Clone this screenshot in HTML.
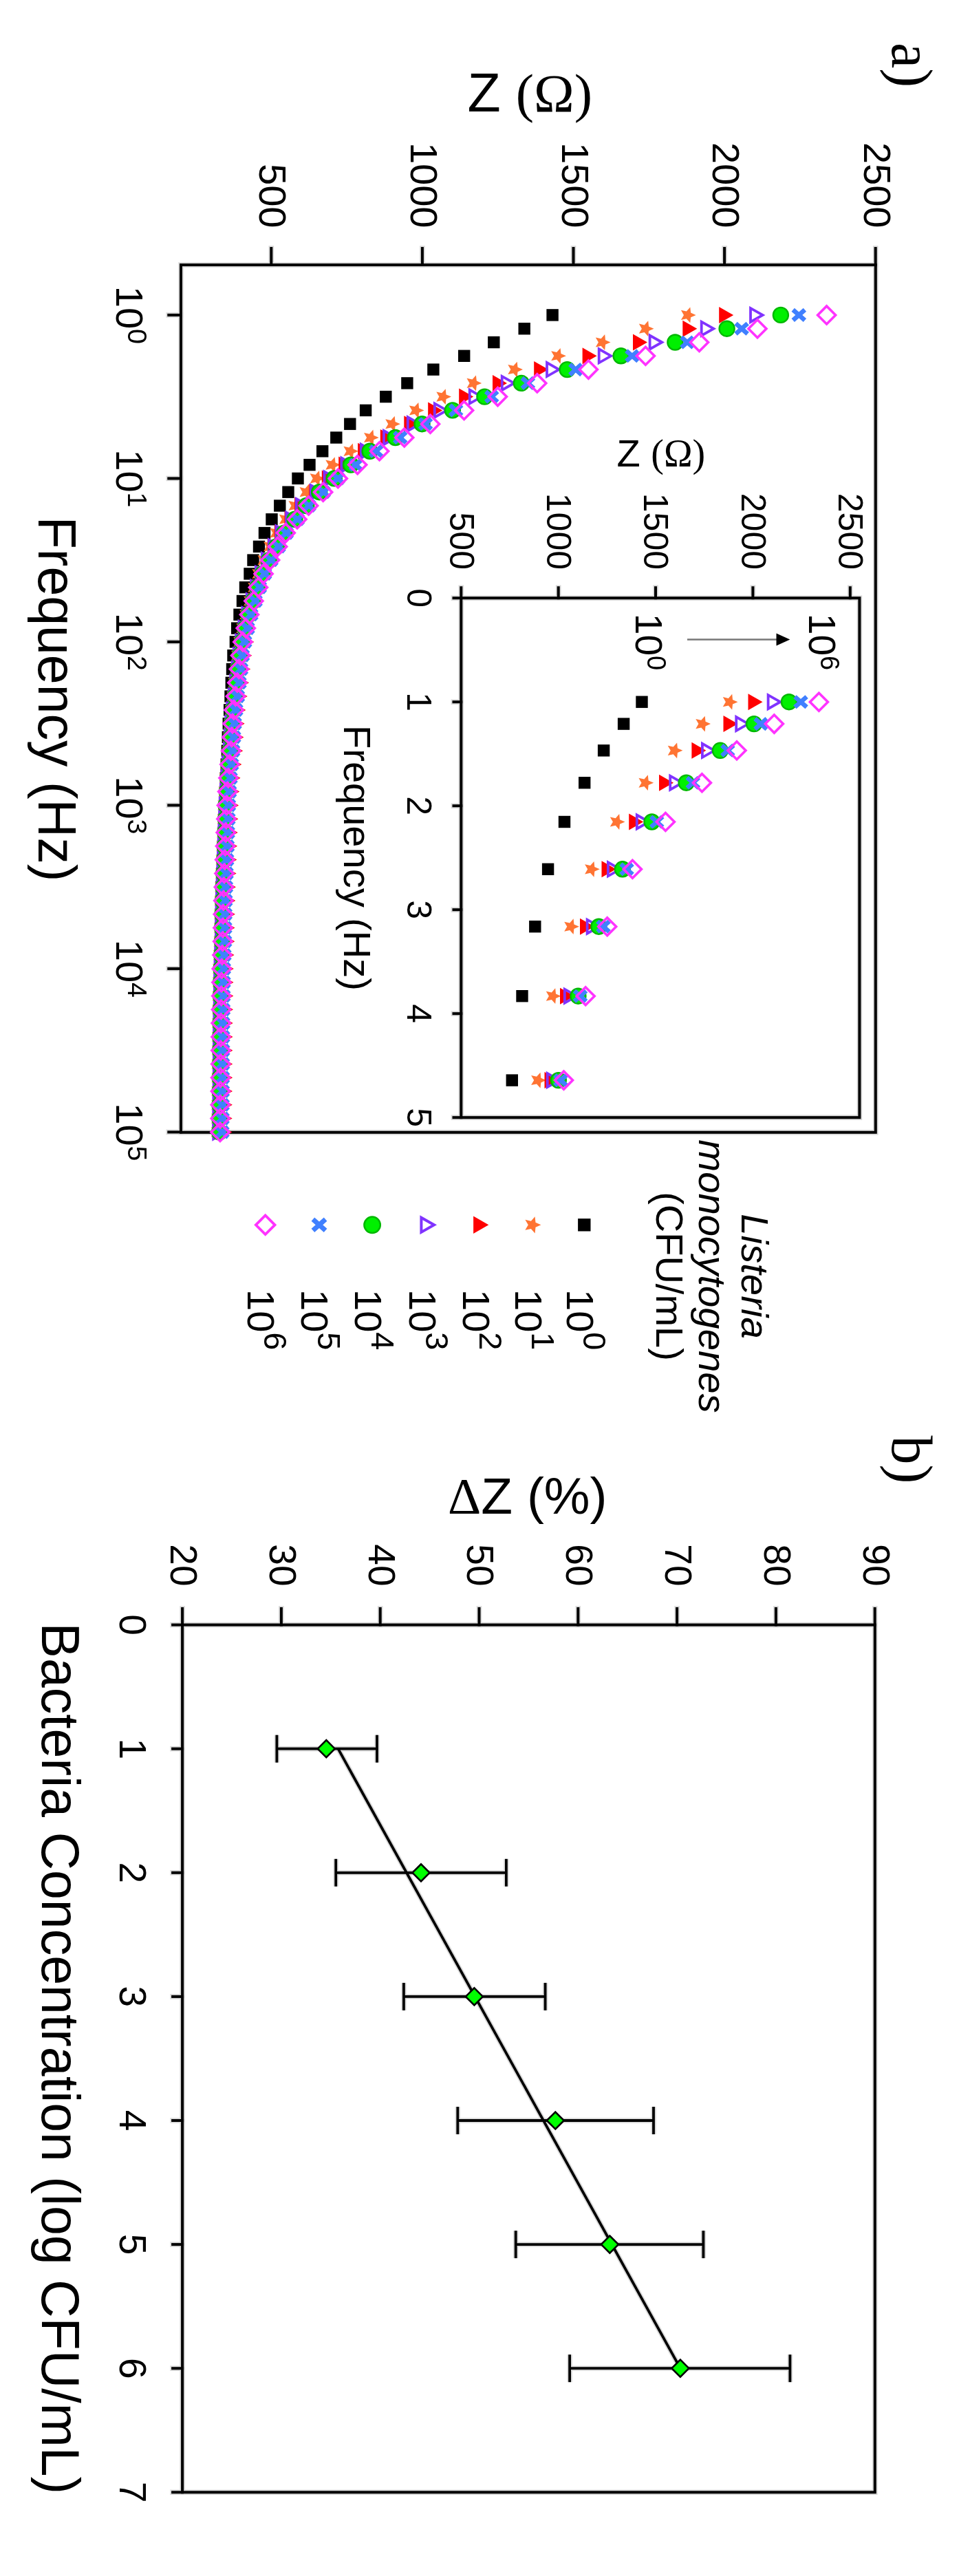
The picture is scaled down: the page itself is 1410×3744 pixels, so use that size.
<!DOCTYPE html><html><head><meta charset="utf-8"><title>Listeria impedance</title>
<style>html,body{margin:0;padding:0;background:#fff;}svg{display:block;filter:blur(0.5px);}text{stroke:none;}</style></head><body>
<svg width="1410" height="3744" viewBox="0 0 1410 3744">
<rect width="1410" height="3744" fill="#fff"/>
<g transform="translate(1410,0) rotate(90)">
<g stroke="#d9d9d9" stroke-width="7.6" fill="none" stroke-linecap="square">
<rect x="385" y="137.2" width="1260.8" height="1009.8"/>
<line x1="361" y1="1015.7" x2="385" y2="1015.7"/>
<line x1="361" y1="796.1" x2="385" y2="796.1"/>
<line x1="361" y1="576.5" x2="385" y2="576.5"/>
<line x1="361" y1="356.9" x2="385" y2="356.9"/>
<line x1="361" y1="137.3" x2="385" y2="137.3"/>
<line x1="457.9" y1="1147" x2="457.9" y2="1164.7"/>
<line x1="695.4" y1="1147" x2="695.4" y2="1164.7"/>
<line x1="932.9" y1="1147" x2="932.9" y2="1164.7"/>
<line x1="1170.4" y1="1147" x2="1170.4" y2="1164.7"/>
<line x1="1407.9" y1="1147" x2="1407.9" y2="1164.7"/>
<line x1="1645.4" y1="1147" x2="1645.4" y2="1164.7"/>
</g>
<g stroke="#000" stroke-width="4" fill="none" stroke-linecap="square">
<rect x="385" y="137.2" width="1260.8" height="1009.8"/>
<line x1="361" y1="1015.7" x2="385" y2="1015.7"/>
<line x1="361" y1="796.1" x2="385" y2="796.1"/>
<line x1="361" y1="576.5" x2="385" y2="576.5"/>
<line x1="361" y1="356.9" x2="385" y2="356.9"/>
<line x1="361" y1="137.3" x2="385" y2="137.3"/>
<line x1="457.9" y1="1147" x2="457.9" y2="1164.7"/>
<line x1="695.4" y1="1147" x2="695.4" y2="1164.7"/>
<line x1="932.9" y1="1147" x2="932.9" y2="1164.7"/>
<line x1="1170.4" y1="1147" x2="1170.4" y2="1164.7"/>
<line x1="1407.9" y1="1147" x2="1407.9" y2="1164.7"/>
<line x1="1645.4" y1="1147" x2="1645.4" y2="1164.7"/>
</g>
<text x="331.5" y="1032.7" font-size="56" text-anchor="end" font-family='"Liberation Sans", Arial, sans-serif'>500</text>
<text x="331.5" y="813.1" font-size="56" text-anchor="end" font-family='"Liberation Sans", Arial, sans-serif'>1000</text>
<text x="331.5" y="593.5" font-size="56" text-anchor="end" font-family='"Liberation Sans", Arial, sans-serif'>1500</text>
<text x="331.5" y="373.9" font-size="56" text-anchor="end" font-family='"Liberation Sans", Arial, sans-serif'>2000</text>
<text x="331.5" y="154.3" font-size="56" text-anchor="end" font-family='"Liberation Sans", Arial, sans-serif'>2500</text>
<text x="457.9" y="1241.4" font-size="56" text-anchor="middle" font-family='"Liberation Sans", Arial, sans-serif'>10<tspan font-size="39.5" dy="-17">0</tspan></text>
<text x="695.4" y="1241.4" font-size="56" text-anchor="middle" font-family='"Liberation Sans", Arial, sans-serif'>10<tspan font-size="39.5" dy="-17">1</tspan></text>
<text x="932.9" y="1241.4" font-size="56" text-anchor="middle" font-family='"Liberation Sans", Arial, sans-serif'>10<tspan font-size="39.5" dy="-17">2</tspan></text>
<text x="1170.4" y="1241.4" font-size="56" text-anchor="middle" font-family='"Liberation Sans", Arial, sans-serif'>10<tspan font-size="39.5" dy="-17">3</tspan></text>
<text x="1407.9" y="1241.4" font-size="56" text-anchor="middle" font-family='"Liberation Sans", Arial, sans-serif'>10<tspan font-size="39.5" dy="-17">4</tspan></text>
<text x="1645.4" y="1241.4" font-size="56" text-anchor="middle" font-family='"Liberation Sans", Arial, sans-serif'>10<tspan font-size="39.5" dy="-17">5</tspan></text>
<text x="1016" y="1354.3" font-size="77" text-anchor="middle" font-family='"Liberation Sans", Arial, sans-serif'>Frequency (Hz)</text>
<text x="62" y="113" font-size="84" text-anchor="start" font-family='"Liberation Serif", "Times New Roman", serif'>a)</text>
<g>
<rect x="449.2" y="598.2" width="17.4" height="17.4" fill="#000"/>
<rect x="469" y="639.1" width="17.4" height="17.4" fill="#000"/>
<rect x="488.8" y="683.5" width="17.4" height="17.4" fill="#000"/>
<rect x="508.6" y="726.6" width="17.4" height="17.4" fill="#000"/>
<rect x="528.4" y="771.4" width="17.4" height="17.4" fill="#000"/>
<rect x="548.2" y="809.4" width="17.4" height="17.4" fill="#000"/>
<rect x="567.9" y="840.5" width="17.4" height="17.4" fill="#000"/>
<rect x="587.7" y="869.7" width="17.4" height="17.4" fill="#000"/>
<rect x="607.5" y="892.5" width="17.4" height="17.4" fill="#000"/>
<rect x="627.3" y="912.5" width="17.4" height="17.4" fill="#000"/>
<rect x="647.1" y="932.6" width="17.4" height="17.4" fill="#000"/>
<rect x="666.9" y="951.3" width="17.4" height="17.4" fill="#000"/>
<rect x="686.7" y="968.3" width="17.4" height="17.4" fill="#000"/>
<rect x="706.5" y="982.3" width="17.4" height="17.4" fill="#000"/>
<rect x="726.3" y="994.5" width="17.4" height="17.4" fill="#000"/>
<rect x="746.1" y="1006.3" width="17.4" height="17.4" fill="#000"/>
<rect x="765.9" y="1016.8" width="17.4" height="17.4" fill="#000"/>
<rect x="785.7" y="1024.8" width="17.4" height="17.4" fill="#000"/>
<rect x="805.4" y="1033.3" width="17.4" height="17.4" fill="#000"/>
<rect x="825.2" y="1038.3" width="17.4" height="17.4" fill="#000"/>
<rect x="845" y="1044.8" width="17.4" height="17.4" fill="#000"/>
<rect x="864.8" y="1048.8" width="17.4" height="17.4" fill="#000"/>
<rect x="884.6" y="1053.3" width="17.4" height="17.4" fill="#000"/>
<rect x="904.4" y="1056.6" width="17.4" height="17.4" fill="#000"/>
<rect x="924.2" y="1058.9" width="17.4" height="17.4" fill="#000"/>
<rect x="944" y="1062.3" width="17.4" height="17.4" fill="#000"/>
<rect x="963.8" y="1063.8" width="17.4" height="17.4" fill="#000"/>
<rect x="983.6" y="1065" width="17.4" height="17.4" fill="#000"/>
<rect x="1003.4" y="1066.3" width="17.4" height="17.4" fill="#000"/>
<rect x="1023.2" y="1067.6" width="17.4" height="17.4" fill="#000"/>
<rect x="1043" y="1069" width="17.4" height="17.4" fill="#000"/>
<rect x="1062.7" y="1070" width="17.4" height="17.4" fill="#000"/>
<rect x="1082.5" y="1070.9" width="17.4" height="17.4" fill="#000"/>
<rect x="1102.3" y="1072" width="17.4" height="17.4" fill="#000"/>
<rect x="1122.1" y="1073" width="17.4" height="17.4" fill="#000"/>
<rect x="1141.9" y="1073.8" width="17.4" height="17.4" fill="#000"/>
<rect x="1161.7" y="1074.5" width="17.4" height="17.4" fill="#000"/>
<rect x="1181.5" y="1075.3" width="17.4" height="17.4" fill="#000"/>
<rect x="1201.3" y="1076.1" width="17.4" height="17.4" fill="#000"/>
<rect x="1221.1" y="1076.9" width="17.4" height="17.4" fill="#000"/>
<rect x="1240.9" y="1077.7" width="17.4" height="17.4" fill="#000"/>
<rect x="1260.7" y="1078.5" width="17.4" height="17.4" fill="#000"/>
<rect x="1280.5" y="1079.3" width="17.4" height="17.4" fill="#000"/>
<rect x="1300.2" y="1079.7" width="17.4" height="17.4" fill="#000"/>
<rect x="1320" y="1080" width="17.4" height="17.4" fill="#000"/>
<rect x="1339.8" y="1080.4" width="17.4" height="17.4" fill="#000"/>
<rect x="1359.6" y="1080.8" width="17.4" height="17.4" fill="#000"/>
<rect x="1379.4" y="1081.2" width="17.4" height="17.4" fill="#000"/>
<rect x="1399.2" y="1081.5" width="17.4" height="17.4" fill="#000"/>
<rect x="1419" y="1081.9" width="17.4" height="17.4" fill="#000"/>
<rect x="1438.8" y="1082.3" width="17.4" height="17.4" fill="#000"/>
<rect x="1458.6" y="1082.4" width="17.4" height="17.4" fill="#000"/>
<rect x="1478.4" y="1082.5" width="17.4" height="17.4" fill="#000"/>
<rect x="1498.2" y="1082.6" width="17.4" height="17.4" fill="#000"/>
<rect x="1518" y="1082.7" width="17.4" height="17.4" fill="#000"/>
<rect x="1537.7" y="1082.8" width="17.4" height="17.4" fill="#000"/>
<rect x="1557.5" y="1082.9" width="17.4" height="17.4" fill="#000"/>
<rect x="1577.3" y="1083" width="17.4" height="17.4" fill="#000"/>
<rect x="1597.1" y="1083.1" width="17.4" height="17.4" fill="#000"/>
<rect x="1616.9" y="1083.2" width="17.4" height="17.4" fill="#000"/>
<rect x="1636.7" y="1083.3" width="17.4" height="17.4" fill="#000"/>
</g>
<g>
<polygon points="457.9,398.4 461.2,405.9 469.3,406.7 463.2,412.2 465,420.1 457.9,416 450.8,420.1 452.6,412.2 446.5,406.7 454.6,405.9" fill="#ff7433"/>
<polygon points="477.7,459.5 481,467 489.1,467.8 483,473.3 484.7,481.2 477.7,477.1 470.6,481.2 472.4,473.3 466.3,467.8 474.4,467" fill="#ff7433"/>
<polygon points="497.5,522.5 500.8,530 508.9,530.8 502.8,536.3 504.5,544.2 497.5,540.1 490.4,544.2 492.2,536.3 486.1,530.8 494.2,530" fill="#ff7433"/>
<polygon points="517.3,587.1 520.6,594.6 528.7,595.4 522.6,600.8 524.3,608.8 517.3,604.7 510.2,608.8 511.9,600.8 505.9,595.4 514,594.6" fill="#ff7433"/>
<polygon points="537.1,650 540.4,657.5 548.5,658.3 542.4,663.7 544.1,671.7 537.1,667.6 530,671.7 531.7,663.7 525.7,658.3 533.8,657.5" fill="#ff7433"/>
<polygon points="556.9,709.8 560.1,717.2 568.3,718.1 562.2,723.5 563.9,731.5 556.9,727.4 549.8,731.5 551.5,723.5 545.4,718.1 553.6,717.2" fill="#ff7433"/>
<polygon points="576.6,754 579.9,761.5 588.1,762.3 582,767.8 583.7,775.7 576.6,771.6 569.6,775.7 571.3,767.8 565.2,762.3 573.4,761.5" fill="#ff7433"/>
<polygon points="596.4,793.5 599.7,800.9 607.9,801.7 601.8,807.2 603.5,815.2 596.4,811.1 589.4,815.2 591.1,807.2 585,801.7 593.2,800.9" fill="#ff7433"/>
<polygon points="616.2,828.1 619.5,835.5 627.6,836.3 621.6,841.8 623.3,849.8 616.2,845.7 609.2,849.8 610.9,841.8 604.8,836.3 612.9,835.5" fill="#ff7433"/>
<polygon points="636,859.3 639.3,866.8 647.4,867.6 641.4,873 643.1,881 636,876.9 629,881 630.7,873 624.6,867.6 632.7,866.8" fill="#ff7433"/>
<polygon points="655.8,888.9 659.1,896.4 667.2,897.2 661.1,902.6 662.9,910.6 655.8,906.5 648.8,910.6 650.5,902.6 644.4,897.2 652.5,896.4" fill="#ff7433"/>
<polygon points="675.6,915 678.9,922.5 687,923.3 680.9,928.8 682.7,936.8 675.6,932.6 668.6,936.8 670.3,928.8 664.2,923.3 672.3,922.5" fill="#ff7433"/>
<polygon points="695.4,937.7 698.7,945.2 706.8,946 700.7,951.4 702.5,959.4 695.4,955.3 688.3,959.4 690.1,951.4 684,946 692.1,945.2" fill="#ff7433"/>
<polygon points="715.2,952.8 718.5,960.3 726.6,961.1 720.5,966.5 722.2,974.5 715.2,970.4 708.1,974.5 709.9,966.5 703.8,961.1 711.9,960.3" fill="#ff7433"/>
<polygon points="735,968.9 738.3,976.4 746.4,977.2 740.3,982.6 742,990.6 735,986.5 727.9,990.6 729.7,982.6 723.6,977.2 731.7,976.4" fill="#ff7433"/>
<polygon points="754.8,982.5 758.1,990 766.2,990.8 760.1,996.2 761.8,1004.2 754.8,1000.1 747.7,1004.2 749.4,996.2 743.4,990.8 751.5,990" fill="#ff7433"/>
<polygon points="774.6,995.9 777.9,1003.4 786,1004.2 779.9,1009.6 781.6,1017.6 774.6,1013.5 767.5,1017.6 769.2,1009.6 763.2,1004.2 771.3,1003.4" fill="#ff7433"/>
<polygon points="794.4,1005.2 797.6,1012.6 805.8,1013.4 799.7,1018.9 801.4,1026.9 794.4,1022.8 787.3,1026.9 789,1018.9 782.9,1013.4 791.1,1012.6" fill="#ff7433"/>
<polygon points="814.1,1013.9 817.4,1021.4 825.6,1022.2 819.5,1027.6 821.2,1035.6 814.1,1031.5 807.1,1035.6 808.8,1027.6 802.7,1022.2 810.9,1021.4" fill="#ff7433"/>
<polygon points="833.9,1021.9 837.2,1029.4 845.4,1030.2 839.3,1035.6 841,1043.6 833.9,1039.5 826.9,1043.6 828.6,1035.6 822.5,1030.2 830.7,1029.4" fill="#ff7433"/>
<polygon points="853.7,1028.1 857,1035.6 865.1,1036.4 859.1,1041.8 860.8,1049.8 853.7,1045.7 846.7,1049.8 848.4,1041.8 842.3,1036.4 850.4,1035.6" fill="#ff7433"/>
<polygon points="873.5,1034.2 876.8,1041.7 884.9,1042.5 878.9,1048 880.6,1055.9 873.5,1051.8 866.5,1055.9 868.2,1048 862.1,1042.5 870.2,1041.7" fill="#ff7433"/>
<polygon points="893.3,1040.2 896.6,1047.7 904.7,1048.5 898.6,1054 900.4,1062 893.3,1057.8 886.3,1062 888,1054 881.9,1048.5 890,1047.7" fill="#ff7433"/>
<polygon points="913.1,1045.1 916.4,1052.5 924.5,1053.4 918.4,1058.8 920.2,1066.8 913.1,1062.7 906.1,1066.8 907.8,1058.8 901.7,1053.4 909.8,1052.5" fill="#ff7433"/>
<polygon points="932.9,1049.1 936.2,1056.6 944.3,1057.4 938.2,1062.8 940,1070.8 932.9,1066.7 925.8,1070.8 927.6,1062.8 921.5,1057.4 929.6,1056.6" fill="#ff7433"/>
<polygon points="952.7,1052.3 956,1059.8 964.1,1060.6 958,1066 959.7,1074 952.7,1069.9 945.6,1074 947.4,1066 941.3,1060.6 949.4,1059.8" fill="#ff7433"/>
<polygon points="972.5,1054.4 975.8,1061.9 983.9,1062.7 977.8,1068.2 979.5,1076.1 972.5,1072 965.4,1076.1 967.2,1068.2 961.1,1062.7 969.2,1061.9" fill="#ff7433"/>
<polygon points="992.3,1056.8 995.6,1064.2 1003.7,1065 997.6,1070.5 999.3,1078.5 992.3,1074.3 985.2,1078.5 986.9,1070.5 980.9,1065 989,1064.2" fill="#ff7433"/>
<polygon points="1012.1,1059.2 1015.4,1066.6 1023.5,1067.5 1017.4,1072.9 1019.1,1080.9 1012.1,1076.8 1005,1080.9 1006.7,1072.9 1000.7,1067.5 1008.8,1066.6" fill="#ff7433"/>
<polygon points="1031.9,1061.6 1035.1,1069.1 1043.3,1069.9 1037.2,1075.3 1038.9,1083.3 1031.9,1079.2 1024.8,1083.3 1026.5,1075.3 1020.4,1069.9 1028.6,1069.1" fill="#ff7433"/>
<polygon points="1051.7,1063.4 1054.9,1070.9 1063.1,1071.7 1057,1077.1 1058.7,1085.1 1051.7,1081 1044.6,1085.1 1046.3,1077.1 1040.2,1071.7 1048.4,1070.9" fill="#ff7433"/>
<polygon points="1071.4,1064.6 1074.7,1072.1 1082.9,1072.9 1076.8,1078.3 1078.5,1086.3 1071.4,1082.2 1064.4,1086.3 1066.1,1078.3 1060,1072.9 1068.2,1072.1" fill="#ff7433"/>
<polygon points="1091.2,1065.8 1094.5,1073.3 1102.6,1074.1 1096.6,1079.5 1098.3,1087.5 1091.2,1083.4 1084.2,1087.5 1085.9,1079.5 1079.8,1074.1 1087.9,1073.3" fill="#ff7433"/>
<polygon points="1111,1067.7 1114.3,1075.2 1122.4,1076 1116.4,1081.4 1118.1,1089.4 1111,1085.3 1104,1089.4 1105.7,1081.4 1099.6,1076 1107.7,1075.2" fill="#ff7433"/>
<polygon points="1130.8,1069.5 1134.1,1077 1142.2,1077.8 1136.1,1083.2 1137.9,1091.2 1130.8,1087.1 1123.8,1091.2 1125.5,1083.2 1119.4,1077.8 1127.5,1077" fill="#ff7433"/>
<polygon points="1150.6,1070.8 1153.9,1078.3 1162,1079.1 1155.9,1084.5 1157.7,1092.5 1150.6,1088.4 1143.6,1092.5 1145.3,1084.5 1139.2,1079.1 1147.3,1078.3" fill="#ff7433"/>
<polygon points="1170.4,1072 1173.7,1079.5 1181.8,1080.3 1175.7,1085.7 1177.5,1093.7 1170.4,1089.6 1163.3,1093.7 1165.1,1085.7 1159,1080.3 1167.1,1079.5" fill="#ff7433"/>
<polygon points="1190.2,1072.6 1193.5,1080.1 1201.6,1080.9 1195.5,1086.3 1197.2,1094.3 1190.2,1090.2 1183.1,1094.3 1184.9,1086.3 1178.8,1080.9 1186.9,1080.1" fill="#ff7433"/>
<polygon points="1210,1073.3 1213.3,1080.8 1221.4,1081.6 1215.3,1087 1217,1095 1210,1090.9 1202.9,1095 1204.7,1087 1198.6,1081.6 1206.7,1080.8" fill="#ff7433"/>
<polygon points="1229.8,1074 1233.1,1081.5 1241.2,1082.3 1235.1,1087.7 1236.8,1095.7 1229.8,1091.6 1222.7,1095.7 1224.4,1087.7 1218.4,1082.3 1226.5,1081.5" fill="#ff7433"/>
<polygon points="1249.6,1074.7 1252.9,1082.2 1261,1083 1254.9,1088.4 1256.6,1096.4 1249.6,1092.3 1242.5,1096.4 1244.2,1088.4 1238.2,1083 1246.3,1082.2" fill="#ff7433"/>
<polygon points="1269.4,1075.4 1272.6,1082.9 1280.8,1083.7 1274.7,1089.1 1276.4,1097.1 1269.4,1093 1262.3,1097.1 1264,1089.1 1257.9,1083.7 1266.1,1082.9" fill="#ff7433"/>
<polygon points="1289.2,1076.1 1292.4,1083.6 1300.6,1084.4 1294.5,1089.8 1296.2,1097.8 1289.2,1093.7 1282.1,1097.8 1283.8,1089.8 1277.7,1084.4 1285.9,1083.6" fill="#ff7433"/>
<polygon points="1308.9,1076.7 1312.2,1084.1 1320.4,1084.9 1314.3,1090.4 1316,1098.4 1308.9,1094.2 1301.9,1098.4 1303.6,1090.4 1297.5,1084.9 1305.7,1084.1" fill="#ff7433"/>
<polygon points="1328.7,1077.2 1332,1084.7 1340.1,1085.5 1334.1,1090.9 1335.8,1098.9 1328.7,1094.8 1321.7,1098.9 1323.4,1090.9 1317.3,1085.5 1325.4,1084.7" fill="#ff7433"/>
<polygon points="1348.5,1077.5 1351.8,1084.9 1359.9,1085.7 1353.9,1091.2 1355.6,1099.2 1348.5,1095 1341.5,1099.2 1343.2,1091.2 1337.1,1085.7 1345.2,1084.9" fill="#ff7433"/>
<polygon points="1368.3,1077.7 1371.6,1085.2 1379.7,1086 1373.6,1091.4 1375.4,1099.4 1368.3,1095.3 1361.3,1099.4 1363,1091.4 1356.9,1086 1365,1085.2" fill="#ff7433"/>
<polygon points="1388.1,1078.5 1391.4,1085.9 1399.5,1086.7 1393.4,1092.2 1395.2,1100.2 1388.1,1096 1381.1,1100.2 1382.8,1092.2 1376.7,1086.7 1384.8,1085.9" fill="#ff7433"/>
<polygon points="1407.9,1079.2 1411.2,1086.7 1419.3,1087.5 1413.2,1092.9 1415,1100.9 1407.9,1096.8 1400.8,1100.9 1402.6,1092.9 1396.5,1087.5 1404.6,1086.7" fill="#ff7433"/>
<polygon points="1427.7,1079.5 1431,1086.9 1439.1,1087.7 1433,1093.2 1434.7,1101.2 1427.7,1097 1420.6,1101.2 1422.4,1093.2 1416.3,1087.7 1424.4,1086.9" fill="#ff7433"/>
<polygon points="1447.5,1079.7 1450.8,1087.2 1458.9,1088 1452.8,1093.4 1454.5,1101.4 1447.5,1097.3 1440.4,1101.4 1442.2,1093.4 1436.1,1088 1444.2,1087.2" fill="#ff7433"/>
<polygon points="1467.3,1080 1470.6,1087.5 1478.7,1088.3 1472.6,1093.7 1474.3,1101.7 1467.3,1097.6 1460.2,1101.7 1461.9,1093.7 1455.9,1088.3 1464,1087.5" fill="#ff7433"/>
<polygon points="1487.1,1080.3 1490.4,1087.8 1498.5,1088.6 1492.4,1094 1494.1,1102 1487.1,1097.9 1480,1102 1481.7,1094 1475.7,1088.6 1483.8,1087.8" fill="#ff7433"/>
<polygon points="1506.9,1080.5 1510.1,1087.9 1518.3,1088.7 1512.2,1094.2 1513.9,1102.2 1506.9,1098 1499.8,1102.2 1501.5,1094.2 1495.4,1088.7 1503.6,1087.9" fill="#ff7433"/>
<polygon points="1526.7,1080.6 1529.9,1088.1 1538.1,1088.9 1532,1094.3 1533.7,1102.3 1526.7,1098.2 1519.6,1102.3 1521.3,1094.3 1515.2,1088.9 1523.4,1088.1" fill="#ff7433"/>
<polygon points="1546.4,1080.8 1549.7,1088.2 1557.9,1089 1551.8,1094.5 1553.5,1102.5 1546.4,1098.3 1539.4,1102.5 1541.1,1094.5 1535,1089 1543.2,1088.2" fill="#ff7433"/>
<polygon points="1566.2,1080.9 1569.5,1088.4 1577.6,1089.2 1571.6,1094.6 1573.3,1102.6 1566.2,1098.5 1559.2,1102.6 1560.9,1094.6 1554.8,1089.2 1562.9,1088.4" fill="#ff7433"/>
<polygon points="1586,1081 1589.3,1088.5 1597.4,1089.3 1591.4,1094.8 1593.1,1102.8 1586,1098.6 1579,1102.8 1580.7,1094.8 1574.6,1089.3 1582.7,1088.5" fill="#ff7433"/>
<polygon points="1605.8,1081.2 1609.1,1088.7 1617.2,1089.5 1611.1,1094.9 1612.9,1102.9 1605.8,1098.8 1598.8,1102.9 1600.5,1094.9 1594.4,1089.5 1602.5,1088.7" fill="#ff7433"/>
<polygon points="1625.6,1081.3 1628.9,1088.8 1637,1089.6 1630.9,1095.1 1632.7,1103.1 1625.6,1098.9 1618.6,1103.1 1620.3,1095.1 1614.2,1089.6 1622.3,1088.8" fill="#ff7433"/>
<polygon points="1645.4,1081.5 1648.7,1089 1656.8,1089.8 1650.7,1095.2 1652.5,1103.2 1645.4,1099.1 1638.3,1103.2 1640.1,1095.2 1634,1089.8 1642.1,1089" fill="#ff7433"/>
</g>
<g>
<polygon points="457.9,343.8 445.9,364.8 469.9,364.8" fill="#ff0000"/>
<polygon points="477.7,396.7 465.7,417.7 489.7,417.7" fill="#ff0000"/>
<polygon points="497.5,469 485.5,490 509.5,490" fill="#ff0000"/>
<polygon points="517.3,542.4 505.3,563.4 529.3,563.4" fill="#ff0000"/>
<polygon points="537.1,612.8 525.1,633.8 549.1,633.8" fill="#ff0000"/>
<polygon points="556.9,673 544.9,694 568.9,694" fill="#ff0000"/>
<polygon points="576.6,721.8 564.6,742.8 588.6,742.8" fill="#ff0000"/>
<polygon points="596.4,766.8 584.4,787.8 608.4,787.8" fill="#ff0000"/>
<polygon points="616.2,801.7 604.2,822.7 628.2,822.7" fill="#ff0000"/>
<polygon points="636,836.2 624,857.2 648,857.2" fill="#ff0000"/>
<polygon points="655.8,868.9 643.8,889.9 667.8,889.9" fill="#ff0000"/>
<polygon points="675.6,896.8 663.6,917.8 687.6,917.8" fill="#ff0000"/>
<polygon points="695.4,921.2 683.4,942.2 707.4,942.2" fill="#ff0000"/>
<polygon points="715.2,939.8 703.2,960.8 727.2,960.8" fill="#ff0000"/>
<polygon points="735,960.9 723,981.9 747,981.9" fill="#ff0000"/>
<polygon points="754.8,975.5 742.8,996.5 766.8,996.5" fill="#ff0000"/>
<polygon points="774.6,990.2 762.6,1011.2 786.6,1011.2" fill="#ff0000"/>
<polygon points="794.4,1000.3 782.4,1021.3 806.4,1021.3" fill="#ff0000"/>
<polygon points="814.1,1009.9 802.1,1030.9 826.1,1030.9" fill="#ff0000"/>
<polygon points="833.9,1017.4 821.9,1038.4 845.9,1038.4" fill="#ff0000"/>
<polygon points="853.7,1023.1 841.7,1044.1 865.7,1044.1" fill="#ff0000"/>
<polygon points="873.5,1028.3 861.5,1049.3 885.5,1049.3" fill="#ff0000"/>
<polygon points="893.3,1033.5 881.3,1054.5 905.3,1054.5" fill="#ff0000"/>
<polygon points="913.1,1037.5 901.1,1058.5 925.1,1058.5" fill="#ff0000"/>
<polygon points="932.9,1040.6 920.9,1061.6 944.9,1061.6" fill="#ff0000"/>
<polygon points="952.7,1043.7 940.7,1064.7 964.7,1064.7" fill="#ff0000"/>
<polygon points="972.5,1045.8 960.5,1066.8 984.5,1066.8" fill="#ff0000"/>
<polygon points="992.3,1048 980.3,1069 1004.3,1069" fill="#ff0000"/>
<polygon points="1012.1,1050.3 1000.1,1071.3 1024.1,1071.3" fill="#ff0000"/>
<polygon points="1031.9,1052.7 1019.9,1073.7 1043.9,1073.7" fill="#ff0000"/>
<polygon points="1051.7,1054.4 1039.7,1075.4 1063.7,1075.4" fill="#ff0000"/>
<polygon points="1071.4,1055.6 1059.4,1076.6 1083.4,1076.6" fill="#ff0000"/>
<polygon points="1091.2,1056.8 1079.2,1077.8 1103.2,1077.8" fill="#ff0000"/>
<polygon points="1111,1058.7 1099,1079.7 1123,1079.7" fill="#ff0000"/>
<polygon points="1130.8,1060.5 1118.8,1081.5 1142.8,1081.5" fill="#ff0000"/>
<polygon points="1150.6,1061.8 1138.6,1082.8 1162.6,1082.8" fill="#ff0000"/>
<polygon points="1170.4,1063 1158.4,1084 1182.4,1084" fill="#ff0000"/>
<polygon points="1190.2,1063.6 1178.2,1084.6 1202.2,1084.6" fill="#ff0000"/>
<polygon points="1210,1064.3 1198,1085.3 1222,1085.3" fill="#ff0000"/>
<polygon points="1229.8,1065 1217.8,1086 1241.8,1086" fill="#ff0000"/>
<polygon points="1249.6,1065.7 1237.6,1086.7 1261.6,1086.7" fill="#ff0000"/>
<polygon points="1269.4,1066.4 1257.4,1087.4 1281.4,1087.4" fill="#ff0000"/>
<polygon points="1289.2,1067.1 1277.2,1088.1 1301.2,1088.1" fill="#ff0000"/>
<polygon points="1308.9,1067.7 1296.9,1088.7 1320.9,1088.7" fill="#ff0000"/>
<polygon points="1328.7,1068.2 1316.7,1089.2 1340.7,1089.2" fill="#ff0000"/>
<polygon points="1348.5,1068.5 1336.5,1089.5 1360.5,1089.5" fill="#ff0000"/>
<polygon points="1368.3,1068.7 1356.3,1089.7 1380.3,1089.7" fill="#ff0000"/>
<polygon points="1388.1,1069.5 1376.1,1090.5 1400.1,1090.5" fill="#ff0000"/>
<polygon points="1407.9,1070.2 1395.9,1091.2 1419.9,1091.2" fill="#ff0000"/>
<polygon points="1427.7,1070.5 1415.7,1091.5 1439.7,1091.5" fill="#ff0000"/>
<polygon points="1447.5,1070.7 1435.5,1091.7 1459.5,1091.7" fill="#ff0000"/>
<polygon points="1467.3,1071 1455.3,1092 1479.3,1092" fill="#ff0000"/>
<polygon points="1487.1,1071.3 1475.1,1092.3 1499.1,1092.3" fill="#ff0000"/>
<polygon points="1506.9,1071.5 1494.9,1092.5 1518.9,1092.5" fill="#ff0000"/>
<polygon points="1526.7,1071.6 1514.7,1092.6 1538.7,1092.6" fill="#ff0000"/>
<polygon points="1546.4,1071.8 1534.4,1092.8 1558.4,1092.8" fill="#ff0000"/>
<polygon points="1566.2,1071.9 1554.2,1092.9 1578.2,1092.9" fill="#ff0000"/>
<polygon points="1586,1072 1574,1093 1598,1093" fill="#ff0000"/>
<polygon points="1605.8,1072.2 1593.8,1093.2 1617.8,1093.2" fill="#ff0000"/>
<polygon points="1625.6,1072.3 1613.6,1093.3 1637.6,1093.3" fill="#ff0000"/>
<polygon points="1645.4,1072.5 1633.4,1093.5 1657.4,1093.5" fill="#ff0000"/>
</g>
<g>
<polygon points="457.9,301.4 447.9,319 467.9,319" fill="none" stroke="#8033ff" stroke-width="3.8" stroke-linejoin="miter"/>
<polygon points="477.7,372.7 467.7,390.3 487.7,390.3" fill="none" stroke="#8033ff" stroke-width="3.8" stroke-linejoin="miter"/>
<polygon points="497.5,447.8 487.5,465.4 507.5,465.4" fill="none" stroke="#8033ff" stroke-width="3.8" stroke-linejoin="miter"/>
<polygon points="517.3,521.7 507.3,539.3 527.3,539.3" fill="none" stroke="#8033ff" stroke-width="3.8" stroke-linejoin="miter"/>
<polygon points="537.1,597.4 527.1,615 547.1,615" fill="none" stroke="#8033ff" stroke-width="3.8" stroke-linejoin="miter"/>
<polygon points="556.9,662.7 546.9,680.3 566.9,680.3" fill="none" stroke="#8033ff" stroke-width="3.8" stroke-linejoin="miter"/>
<polygon points="576.6,709.7 566.6,727.3 586.6,727.3" fill="none" stroke="#8033ff" stroke-width="3.8" stroke-linejoin="miter"/>
<polygon points="596.4,760.6 586.4,778.2 606.4,778.2" fill="none" stroke="#8033ff" stroke-width="3.8" stroke-linejoin="miter"/>
<polygon points="616.2,799.6 606.2,817.2 626.2,817.2" fill="none" stroke="#8033ff" stroke-width="3.8" stroke-linejoin="miter"/>
<polygon points="636,834.4 626,852 646,852" fill="none" stroke="#8033ff" stroke-width="3.8" stroke-linejoin="miter"/>
<polygon points="655.8,867.6 645.8,885.2 665.8,885.2" fill="none" stroke="#8033ff" stroke-width="3.8" stroke-linejoin="miter"/>
<polygon points="675.6,896 665.6,913.6 685.6,913.6" fill="none" stroke="#8033ff" stroke-width="3.8" stroke-linejoin="miter"/>
<polygon points="695.4,920.9 685.4,938.5 705.4,938.5" fill="none" stroke="#8033ff" stroke-width="3.8" stroke-linejoin="miter"/>
<polygon points="715.2,940.5 705.2,958.1 725.2,958.1" fill="none" stroke="#8033ff" stroke-width="3.8" stroke-linejoin="miter"/>
<polygon points="735,961.6 725,979.2 745,979.2" fill="none" stroke="#8033ff" stroke-width="3.8" stroke-linejoin="miter"/>
<polygon points="754.8,976.2 744.8,993.8 764.8,993.8" fill="none" stroke="#8033ff" stroke-width="3.8" stroke-linejoin="miter"/>
<polygon points="774.6,990.9 764.6,1008.5 784.6,1008.5" fill="none" stroke="#8033ff" stroke-width="3.8" stroke-linejoin="miter"/>
<polygon points="794.4,1001.5 784.4,1019.1 804.4,1019.1" fill="none" stroke="#8033ff" stroke-width="3.8" stroke-linejoin="miter"/>
<polygon points="814.1,1011.6 804.1,1029.2 824.1,1029.2" fill="none" stroke="#8033ff" stroke-width="3.8" stroke-linejoin="miter"/>
<polygon points="833.9,1020.4 823.9,1038 843.9,1038" fill="none" stroke="#8033ff" stroke-width="3.8" stroke-linejoin="miter"/>
<polygon points="853.7,1027.3 843.7,1044.9 863.7,1044.9" fill="none" stroke="#8033ff" stroke-width="3.8" stroke-linejoin="miter"/>
<polygon points="873.5,1033.7 863.5,1051.3 883.5,1051.3" fill="none" stroke="#8033ff" stroke-width="3.8" stroke-linejoin="miter"/>
<polygon points="893.3,1040 883.3,1057.5 903.3,1057.5" fill="none" stroke="#8033ff" stroke-width="3.8" stroke-linejoin="miter"/>
<polygon points="913.1,1045 903.1,1062.6 923.1,1062.6" fill="none" stroke="#8033ff" stroke-width="3.8" stroke-linejoin="miter"/>
<polygon points="932.9,1049.3 922.9,1066.9 942.9,1066.9" fill="none" stroke="#8033ff" stroke-width="3.8" stroke-linejoin="miter"/>
<polygon points="952.7,1052.6 942.7,1070.2 962.7,1070.2" fill="none" stroke="#8033ff" stroke-width="3.8" stroke-linejoin="miter"/>
<polygon points="972.5,1054.8 962.5,1072.4 982.5,1072.4" fill="none" stroke="#8033ff" stroke-width="3.8" stroke-linejoin="miter"/>
<polygon points="992.3,1057.2 982.3,1074.8 1002.3,1074.8" fill="none" stroke="#8033ff" stroke-width="3.8" stroke-linejoin="miter"/>
<polygon points="1012.1,1059.7 1002.1,1077.3 1022.1,1077.3" fill="none" stroke="#8033ff" stroke-width="3.8" stroke-linejoin="miter"/>
<polygon points="1031.9,1062.2 1021.9,1079.8 1041.9,1079.8" fill="none" stroke="#8033ff" stroke-width="3.8" stroke-linejoin="miter"/>
<polygon points="1051.7,1064.1 1041.7,1081.7 1061.7,1081.7" fill="none" stroke="#8033ff" stroke-width="3.8" stroke-linejoin="miter"/>
<polygon points="1071.4,1065.3 1061.4,1082.9 1081.4,1082.9" fill="none" stroke="#8033ff" stroke-width="3.8" stroke-linejoin="miter"/>
<polygon points="1091.2,1066.5 1081.2,1084.1 1101.2,1084.1" fill="none" stroke="#8033ff" stroke-width="3.8" stroke-linejoin="miter"/>
<polygon points="1111,1068.4 1101,1086 1121,1086" fill="none" stroke="#8033ff" stroke-width="3.8" stroke-linejoin="miter"/>
<polygon points="1130.8,1070.2 1120.8,1087.8 1140.8,1087.8" fill="none" stroke="#8033ff" stroke-width="3.8" stroke-linejoin="miter"/>
<polygon points="1150.6,1071.5 1140.6,1089.1 1160.6,1089.1" fill="none" stroke="#8033ff" stroke-width="3.8" stroke-linejoin="miter"/>
<polygon points="1170.4,1072.7 1160.4,1090.3 1180.4,1090.3" fill="none" stroke="#8033ff" stroke-width="3.8" stroke-linejoin="miter"/>
<polygon points="1190.2,1073.3 1180.2,1090.9 1200.2,1090.9" fill="none" stroke="#8033ff" stroke-width="3.8" stroke-linejoin="miter"/>
<polygon points="1210,1074 1200,1091.6 1220,1091.6" fill="none" stroke="#8033ff" stroke-width="3.8" stroke-linejoin="miter"/>
<polygon points="1229.8,1074.7 1219.8,1092.3 1239.8,1092.3" fill="none" stroke="#8033ff" stroke-width="3.8" stroke-linejoin="miter"/>
<polygon points="1249.6,1075.4 1239.6,1093 1259.6,1093" fill="none" stroke="#8033ff" stroke-width="3.8" stroke-linejoin="miter"/>
<polygon points="1269.4,1076.1 1259.4,1093.7 1279.4,1093.7" fill="none" stroke="#8033ff" stroke-width="3.8" stroke-linejoin="miter"/>
<polygon points="1289.2,1076.8 1279.2,1094.4 1299.2,1094.4" fill="none" stroke="#8033ff" stroke-width="3.8" stroke-linejoin="miter"/>
<polygon points="1308.9,1077.4 1298.9,1095 1318.9,1095" fill="none" stroke="#8033ff" stroke-width="3.8" stroke-linejoin="miter"/>
<polygon points="1328.7,1077.9 1318.7,1095.5 1338.7,1095.5" fill="none" stroke="#8033ff" stroke-width="3.8" stroke-linejoin="miter"/>
<polygon points="1348.5,1078.2 1338.5,1095.8 1358.5,1095.8" fill="none" stroke="#8033ff" stroke-width="3.8" stroke-linejoin="miter"/>
<polygon points="1368.3,1078.4 1358.3,1096 1378.3,1096" fill="none" stroke="#8033ff" stroke-width="3.8" stroke-linejoin="miter"/>
<polygon points="1388.1,1079.2 1378.1,1096.8 1398.1,1096.8" fill="none" stroke="#8033ff" stroke-width="3.8" stroke-linejoin="miter"/>
<polygon points="1407.9,1079.9 1397.9,1097.5 1417.9,1097.5" fill="none" stroke="#8033ff" stroke-width="3.8" stroke-linejoin="miter"/>
<polygon points="1427.7,1080.2 1417.7,1097.8 1437.7,1097.8" fill="none" stroke="#8033ff" stroke-width="3.8" stroke-linejoin="miter"/>
<polygon points="1447.5,1080.4 1437.5,1098 1457.5,1098" fill="none" stroke="#8033ff" stroke-width="3.8" stroke-linejoin="miter"/>
<polygon points="1467.3,1080.7 1457.3,1098.3 1477.3,1098.3" fill="none" stroke="#8033ff" stroke-width="3.8" stroke-linejoin="miter"/>
<polygon points="1487.1,1081 1477.1,1098.6 1497.1,1098.6" fill="none" stroke="#8033ff" stroke-width="3.8" stroke-linejoin="miter"/>
<polygon points="1506.9,1081.2 1496.9,1098.8 1516.9,1098.8" fill="none" stroke="#8033ff" stroke-width="3.8" stroke-linejoin="miter"/>
<polygon points="1526.7,1081.3 1516.7,1098.9 1536.7,1098.9" fill="none" stroke="#8033ff" stroke-width="3.8" stroke-linejoin="miter"/>
<polygon points="1546.4,1081.5 1536.4,1099 1556.4,1099" fill="none" stroke="#8033ff" stroke-width="3.8" stroke-linejoin="miter"/>
<polygon points="1566.2,1081.6 1556.2,1099.2 1576.2,1099.2" fill="none" stroke="#8033ff" stroke-width="3.8" stroke-linejoin="miter"/>
<polygon points="1586,1081.8 1576,1099.3 1596,1099.3" fill="none" stroke="#8033ff" stroke-width="3.8" stroke-linejoin="miter"/>
<polygon points="1605.8,1081.9 1595.8,1099.5 1615.8,1099.5" fill="none" stroke="#8033ff" stroke-width="3.8" stroke-linejoin="miter"/>
<polygon points="1625.6,1082 1615.6,1099.6 1635.6,1099.6" fill="none" stroke="#8033ff" stroke-width="3.8" stroke-linejoin="miter"/>
<polygon points="1645.4,1082.2 1635.4,1099.8 1655.4,1099.8" fill="none" stroke="#8033ff" stroke-width="3.8" stroke-linejoin="miter"/>
</g>
<g>
<circle cx="457.9" cy="275.1" r="11" fill="#00f000" stroke="#00b800" stroke-width="2.4"/>
<circle cx="477.7" cy="353.4" r="11" fill="#00f000" stroke="#00b800" stroke-width="2.4"/>
<circle cx="497.5" cy="428.6" r="11" fill="#00f000" stroke="#00b800" stroke-width="2.4"/>
<circle cx="517.3" cy="507.4" r="11" fill="#00f000" stroke="#00b800" stroke-width="2.4"/>
<circle cx="537.1" cy="585.5" r="11" fill="#00f000" stroke="#00b800" stroke-width="2.4"/>
<circle cx="556.9" cy="652.2" r="11" fill="#00f000" stroke="#00b800" stroke-width="2.4"/>
<circle cx="576.6" cy="705.6" r="11" fill="#00f000" stroke="#00b800" stroke-width="2.4"/>
<circle cx="596.4" cy="752.1" r="11" fill="#00f000" stroke="#00b800" stroke-width="2.4"/>
<circle cx="616.2" cy="796.5" r="11" fill="#00f000" stroke="#00b800" stroke-width="2.4"/>
<circle cx="636" cy="835.3" r="11" fill="#00f000" stroke="#00b800" stroke-width="2.4"/>
<circle cx="655.8" cy="872.4" r="11" fill="#00f000" stroke="#00b800" stroke-width="2.4"/>
<circle cx="675.6" cy="900" r="11" fill="#00f000" stroke="#00b800" stroke-width="2.4"/>
<circle cx="695.4" cy="924.2" r="11" fill="#00f000" stroke="#00b800" stroke-width="2.4"/>
<circle cx="715.2" cy="945.8" r="11" fill="#00f000" stroke="#00b800" stroke-width="2.4"/>
<circle cx="735" cy="964.7" r="11" fill="#00f000" stroke="#00b800" stroke-width="2.4"/>
<circle cx="754.8" cy="981.5" r="11" fill="#00f000" stroke="#00b800" stroke-width="2.4"/>
<circle cx="774.6" cy="996.7" r="11" fill="#00f000" stroke="#00b800" stroke-width="2.4"/>
<circle cx="794.4" cy="1008" r="11" fill="#00f000" stroke="#00b800" stroke-width="2.4"/>
<circle cx="814.1" cy="1018.9" r="11" fill="#00f000" stroke="#00b800" stroke-width="2.4"/>
<circle cx="833.9" cy="1028.2" r="11" fill="#00f000" stroke="#00b800" stroke-width="2.4"/>
<circle cx="853.7" cy="1035.6" r="11" fill="#00f000" stroke="#00b800" stroke-width="2.4"/>
<circle cx="873.5" cy="1042.1" r="11" fill="#00f000" stroke="#00b800" stroke-width="2.4"/>
<circle cx="893.3" cy="1048.5" r="11" fill="#00f000" stroke="#00b800" stroke-width="2.4"/>
<circle cx="913.1" cy="1053.7" r="11" fill="#00f000" stroke="#00b800" stroke-width="2.4"/>
<circle cx="932.9" cy="1058.1" r="11" fill="#00f000" stroke="#00b800" stroke-width="2.4"/>
<circle cx="952.7" cy="1061.4" r="11" fill="#00f000" stroke="#00b800" stroke-width="2.4"/>
<circle cx="972.5" cy="1063.6" r="11" fill="#00f000" stroke="#00b800" stroke-width="2.4"/>
<circle cx="992.3" cy="1066" r="11" fill="#00f000" stroke="#00b800" stroke-width="2.4"/>
<circle cx="1012.1" cy="1068.5" r="11" fill="#00f000" stroke="#00b800" stroke-width="2.4"/>
<circle cx="1031.9" cy="1071" r="11" fill="#00f000" stroke="#00b800" stroke-width="2.4"/>
<circle cx="1051.7" cy="1072.9" r="11" fill="#00f000" stroke="#00b800" stroke-width="2.4"/>
<circle cx="1071.4" cy="1074.1" r="11" fill="#00f000" stroke="#00b800" stroke-width="2.4"/>
<circle cx="1091.2" cy="1075.3" r="11" fill="#00f000" stroke="#00b800" stroke-width="2.4"/>
<circle cx="1111" cy="1077.2" r="11" fill="#00f000" stroke="#00b800" stroke-width="2.4"/>
<circle cx="1130.8" cy="1079" r="11" fill="#00f000" stroke="#00b800" stroke-width="2.4"/>
<circle cx="1150.6" cy="1080.3" r="11" fill="#00f000" stroke="#00b800" stroke-width="2.4"/>
<circle cx="1170.4" cy="1081.5" r="11" fill="#00f000" stroke="#00b800" stroke-width="2.4"/>
<circle cx="1190.2" cy="1082.1" r="11" fill="#00f000" stroke="#00b800" stroke-width="2.4"/>
<circle cx="1210" cy="1082.8" r="11" fill="#00f000" stroke="#00b800" stroke-width="2.4"/>
<circle cx="1229.8" cy="1083.5" r="11" fill="#00f000" stroke="#00b800" stroke-width="2.4"/>
<circle cx="1249.6" cy="1084.2" r="11" fill="#00f000" stroke="#00b800" stroke-width="2.4"/>
<circle cx="1269.4" cy="1084.9" r="11" fill="#00f000" stroke="#00b800" stroke-width="2.4"/>
<circle cx="1289.2" cy="1085.6" r="11" fill="#00f000" stroke="#00b800" stroke-width="2.4"/>
<circle cx="1308.9" cy="1086.2" r="11" fill="#00f000" stroke="#00b800" stroke-width="2.4"/>
<circle cx="1328.7" cy="1086.7" r="11" fill="#00f000" stroke="#00b800" stroke-width="2.4"/>
<circle cx="1348.5" cy="1087" r="11" fill="#00f000" stroke="#00b800" stroke-width="2.4"/>
<circle cx="1368.3" cy="1087.2" r="11" fill="#00f000" stroke="#00b800" stroke-width="2.4"/>
<circle cx="1388.1" cy="1088" r="11" fill="#00f000" stroke="#00b800" stroke-width="2.4"/>
<circle cx="1407.9" cy="1088.7" r="11" fill="#00f000" stroke="#00b800" stroke-width="2.4"/>
<circle cx="1427.7" cy="1089" r="11" fill="#00f000" stroke="#00b800" stroke-width="2.4"/>
<circle cx="1447.5" cy="1089.2" r="11" fill="#00f000" stroke="#00b800" stroke-width="2.4"/>
<circle cx="1467.3" cy="1089.5" r="11" fill="#00f000" stroke="#00b800" stroke-width="2.4"/>
<circle cx="1487.1" cy="1089.8" r="11" fill="#00f000" stroke="#00b800" stroke-width="2.4"/>
<circle cx="1506.9" cy="1090" r="11" fill="#00f000" stroke="#00b800" stroke-width="2.4"/>
<circle cx="1526.7" cy="1090.1" r="11" fill="#00f000" stroke="#00b800" stroke-width="2.4"/>
<circle cx="1546.4" cy="1090.2" r="11" fill="#00f000" stroke="#00b800" stroke-width="2.4"/>
<circle cx="1566.2" cy="1090.4" r="11" fill="#00f000" stroke="#00b800" stroke-width="2.4"/>
<circle cx="1586" cy="1090.5" r="11" fill="#00f000" stroke="#00b800" stroke-width="2.4"/>
<circle cx="1605.8" cy="1090.7" r="11" fill="#00f000" stroke="#00b800" stroke-width="2.4"/>
<circle cx="1625.6" cy="1090.8" r="11" fill="#00f000" stroke="#00b800" stroke-width="2.4"/>
<circle cx="1645.4" cy="1091" r="11" fill="#00f000" stroke="#00b800" stroke-width="2.4"/>
</g>
<g>
<path d="M450.3 240.1L465.5 257.3M450.3 257.3L465.5 240.1" stroke="#4080ff" stroke-width="6.6" stroke-linecap="butt"/>
<path d="M470.1 323.3L485.3 340.5M470.1 340.5L485.3 323.3" stroke="#4080ff" stroke-width="6.6" stroke-linecap="butt"/>
<path d="M489.9 402.4L505.1 419.6M489.9 419.6L505.1 402.4" stroke="#4080ff" stroke-width="6.6" stroke-linecap="butt"/>
<path d="M509.7 482.5L524.9 499.7M509.7 499.7L524.9 482.5" stroke="#4080ff" stroke-width="6.6" stroke-linecap="butt"/>
<path d="M529.5 564.6L544.7 581.8M529.5 581.8L544.7 564.6" stroke="#4080ff" stroke-width="6.6" stroke-linecap="butt"/>
<path d="M549.3 634L564.5 651.2M549.3 651.2L564.5 634" stroke="#4080ff" stroke-width="6.6" stroke-linecap="butt"/>
<path d="M569 686.7L584.2 703.9M569 703.9L584.2 686.7" stroke="#4080ff" stroke-width="6.6" stroke-linecap="butt"/>
<path d="M588.8 738.7L604 755.9M588.8 755.9L604 738.7" stroke="#4080ff" stroke-width="6.6" stroke-linecap="butt"/>
<path d="M608.6 782.9L623.8 800.1M608.6 800.1L623.8 782.9" stroke="#4080ff" stroke-width="6.6" stroke-linecap="butt"/>
<path d="M628.4 819.7L643.6 836.9M628.4 836.9L643.6 819.7" stroke="#4080ff" stroke-width="6.6" stroke-linecap="butt"/>
<path d="M648.2 854.8L663.4 872M648.2 872L663.4 854.8" stroke="#4080ff" stroke-width="6.6" stroke-linecap="butt"/>
<path d="M668 884.2L683.2 901.4M668 901.4L683.2 884.2" stroke="#4080ff" stroke-width="6.6" stroke-linecap="butt"/>
<path d="M687.8 910.1L703 927.3M687.8 927.3L703 910.1" stroke="#4080ff" stroke-width="6.6" stroke-linecap="butt"/>
<path d="M707.6 931.2L722.8 948.4M707.6 948.4L722.8 931.2" stroke="#4080ff" stroke-width="6.6" stroke-linecap="butt"/>
<path d="M727.4 952.3L742.6 969.5M727.4 969.5L742.6 952.3" stroke="#4080ff" stroke-width="6.6" stroke-linecap="butt"/>
<path d="M747.2 968.9L762.4 986.1M747.2 986.1L762.4 968.9" stroke="#4080ff" stroke-width="6.6" stroke-linecap="butt"/>
<path d="M767 985.1L782.2 1002.3M767 1002.3L782.2 985.1" stroke="#4080ff" stroke-width="6.6" stroke-linecap="butt"/>
<path d="M786.8 996.4L802 1013.6M786.8 1013.6L802 996.4" stroke="#4080ff" stroke-width="6.6" stroke-linecap="butt"/>
<path d="M806.5 1007.3L821.8 1024.5M806.5 1024.5L821.8 1007.3" stroke="#4080ff" stroke-width="6.6" stroke-linecap="butt"/>
<path d="M826.3 1016.6L841.5 1033.8M826.3 1033.8L841.5 1016.6" stroke="#4080ff" stroke-width="6.6" stroke-linecap="butt"/>
<path d="M846.1 1024L861.3 1041.2M846.1 1041.2L861.3 1024" stroke="#4080ff" stroke-width="6.6" stroke-linecap="butt"/>
<path d="M865.9 1030.2L881.1 1047.4M865.9 1047.4L881.1 1030.2" stroke="#4080ff" stroke-width="6.6" stroke-linecap="butt"/>
<path d="M885.7 1036.4L900.9 1053.6M885.7 1053.6L900.9 1036.4" stroke="#4080ff" stroke-width="6.6" stroke-linecap="butt"/>
<path d="M905.5 1041.4L920.7 1058.5M905.5 1058.5L920.7 1041.4" stroke="#4080ff" stroke-width="6.6" stroke-linecap="butt"/>
<path d="M925.3 1045.5L940.5 1062.7M925.3 1062.7L940.5 1045.5" stroke="#4080ff" stroke-width="6.6" stroke-linecap="butt"/>
<path d="M945.1 1048.8L960.3 1066M945.1 1066L960.3 1048.8" stroke="#4080ff" stroke-width="6.6" stroke-linecap="butt"/>
<path d="M964.9 1051L980.1 1068.2M964.9 1068.2L980.1 1051" stroke="#4080ff" stroke-width="6.6" stroke-linecap="butt"/>
<path d="M984.7 1053.4L999.9 1070.6M984.7 1070.6L999.9 1053.4" stroke="#4080ff" stroke-width="6.6" stroke-linecap="butt"/>
<path d="M1004.5 1055.9L1019.7 1073.1M1004.5 1073.1L1019.7 1055.9" stroke="#4080ff" stroke-width="6.6" stroke-linecap="butt"/>
<path d="M1024.3 1058.4L1039.5 1075.6M1024.3 1075.6L1039.5 1058.4" stroke="#4080ff" stroke-width="6.6" stroke-linecap="butt"/>
<path d="M1044.1 1060.3L1059.2 1077.5M1044.1 1077.5L1059.2 1060.3" stroke="#4080ff" stroke-width="6.6" stroke-linecap="butt"/>
<path d="M1063.8 1061.5L1079 1078.7M1063.8 1078.7L1079 1061.5" stroke="#4080ff" stroke-width="6.6" stroke-linecap="butt"/>
<path d="M1083.6 1062.7L1098.8 1079.9M1083.6 1079.9L1098.8 1062.7" stroke="#4080ff" stroke-width="6.6" stroke-linecap="butt"/>
<path d="M1103.4 1064.6L1118.6 1081.8M1103.4 1081.8L1118.6 1064.6" stroke="#4080ff" stroke-width="6.6" stroke-linecap="butt"/>
<path d="M1123.2 1066.4L1138.4 1083.6M1123.2 1083.6L1138.4 1066.4" stroke="#4080ff" stroke-width="6.6" stroke-linecap="butt"/>
<path d="M1143 1067.7L1158.2 1084.9M1143 1084.9L1158.2 1067.7" stroke="#4080ff" stroke-width="6.6" stroke-linecap="butt"/>
<path d="M1162.8 1068.9L1178 1086.1M1162.8 1086.1L1178 1068.9" stroke="#4080ff" stroke-width="6.6" stroke-linecap="butt"/>
<path d="M1182.6 1069.5L1197.8 1086.7M1182.6 1086.7L1197.8 1069.5" stroke="#4080ff" stroke-width="6.6" stroke-linecap="butt"/>
<path d="M1202.4 1070.2L1217.6 1087.4M1202.4 1087.4L1217.6 1070.2" stroke="#4080ff" stroke-width="6.6" stroke-linecap="butt"/>
<path d="M1222.2 1070.9L1237.4 1088.1M1222.2 1088.1L1237.4 1070.9" stroke="#4080ff" stroke-width="6.6" stroke-linecap="butt"/>
<path d="M1242 1071.6L1257.2 1088.8M1242 1088.8L1257.2 1071.6" stroke="#4080ff" stroke-width="6.6" stroke-linecap="butt"/>
<path d="M1261.8 1072.3L1277 1089.5M1261.8 1089.5L1277 1072.3" stroke="#4080ff" stroke-width="6.6" stroke-linecap="butt"/>
<path d="M1281.6 1073L1296.8 1090.2M1281.6 1090.2L1296.8 1073" stroke="#4080ff" stroke-width="6.6" stroke-linecap="butt"/>
<path d="M1301.3 1073.6L1316.5 1090.8M1301.3 1090.8L1316.5 1073.6" stroke="#4080ff" stroke-width="6.6" stroke-linecap="butt"/>
<path d="M1321.1 1074.1L1336.3 1091.3M1321.1 1091.3L1336.3 1074.1" stroke="#4080ff" stroke-width="6.6" stroke-linecap="butt"/>
<path d="M1340.9 1074.4L1356.1 1091.5M1340.9 1091.5L1356.1 1074.4" stroke="#4080ff" stroke-width="6.6" stroke-linecap="butt"/>
<path d="M1360.7 1074.6L1375.9 1091.8M1360.7 1091.8L1375.9 1074.6" stroke="#4080ff" stroke-width="6.6" stroke-linecap="butt"/>
<path d="M1380.5 1075.4L1395.7 1092.5M1380.5 1092.5L1395.7 1075.4" stroke="#4080ff" stroke-width="6.6" stroke-linecap="butt"/>
<path d="M1400.3 1076.1L1415.5 1093.3M1400.3 1093.3L1415.5 1076.1" stroke="#4080ff" stroke-width="6.6" stroke-linecap="butt"/>
<path d="M1420.1 1076.4L1435.3 1093.5M1420.1 1093.5L1435.3 1076.4" stroke="#4080ff" stroke-width="6.6" stroke-linecap="butt"/>
<path d="M1439.9 1076.6L1455.1 1093.8M1439.9 1093.8L1455.1 1076.6" stroke="#4080ff" stroke-width="6.6" stroke-linecap="butt"/>
<path d="M1459.7 1076.9L1474.9 1094.1M1459.7 1094.1L1474.9 1076.9" stroke="#4080ff" stroke-width="6.6" stroke-linecap="butt"/>
<path d="M1479.5 1077.2L1494.7 1094.4M1479.5 1094.4L1494.7 1077.2" stroke="#4080ff" stroke-width="6.6" stroke-linecap="butt"/>
<path d="M1499.3 1077.4L1514.5 1094.5M1499.3 1094.5L1514.5 1077.4" stroke="#4080ff" stroke-width="6.6" stroke-linecap="butt"/>
<path d="M1519.1 1077.5L1534.2 1094.7M1519.1 1094.7L1534.2 1077.5" stroke="#4080ff" stroke-width="6.6" stroke-linecap="butt"/>
<path d="M1538.8 1077.7L1554 1094.8M1538.8 1094.8L1554 1077.7" stroke="#4080ff" stroke-width="6.6" stroke-linecap="butt"/>
<path d="M1558.6 1077.8L1573.8 1095M1558.6 1095L1573.8 1077.8" stroke="#4080ff" stroke-width="6.6" stroke-linecap="butt"/>
<path d="M1578.4 1078L1593.6 1095.1M1578.4 1095.1L1593.6 1078" stroke="#4080ff" stroke-width="6.6" stroke-linecap="butt"/>
<path d="M1598.2 1078.1L1613.4 1095.3M1598.2 1095.3L1613.4 1078.1" stroke="#4080ff" stroke-width="6.6" stroke-linecap="butt"/>
<path d="M1618 1078.2L1633.2 1095.4M1618 1095.4L1633.2 1078.2" stroke="#4080ff" stroke-width="6.6" stroke-linecap="butt"/>
<path d="M1637.8 1078.4L1653 1095.6M1637.8 1095.6L1653 1078.4" stroke="#4080ff" stroke-width="6.6" stroke-linecap="butt"/>
</g>
<g>
<polygon points="457.9,195.4 470.9,208.4 457.9,221.4 444.9,208.4" fill="none" stroke="#ff33ff" stroke-width="3.6"/>
<polygon points="477.7,296 490.7,309 477.7,322 464.7,309" fill="none" stroke="#ff33ff" stroke-width="3.6"/>
<polygon points="497.5,380.5 510.5,393.5 497.5,406.5 484.5,393.5" fill="none" stroke="#ff33ff" stroke-width="3.6"/>
<polygon points="517.3,458.6 530.3,471.6 517.3,484.6 504.3,471.6" fill="none" stroke="#ff33ff" stroke-width="3.6"/>
<polygon points="537.1,541.6 550.1,554.6 537.1,567.6 524.1,554.6" fill="none" stroke="#ff33ff" stroke-width="3.6"/>
<polygon points="556.9,616.2 569.9,629.2 556.9,642.2 543.9,629.2" fill="none" stroke="#ff33ff" stroke-width="3.6"/>
<polygon points="576.6,673.5 589.6,686.5 576.6,699.5 563.6,686.5" fill="none" stroke="#ff33ff" stroke-width="3.6"/>
<polygon points="596.4,722.4 609.4,735.4 596.4,748.4 583.4,735.4" fill="none" stroke="#ff33ff" stroke-width="3.6"/>
<polygon points="616.2,771.5 629.2,784.5 616.2,797.5 603.2,784.5" fill="none" stroke="#ff33ff" stroke-width="3.6"/>
<polygon points="636,809.3 649,822.3 636,835.3 623,822.3" fill="none" stroke="#ff33ff" stroke-width="3.6"/>
<polygon points="655.8,845.4 668.8,858.4 655.8,871.4 642.8,858.4" fill="none" stroke="#ff33ff" stroke-width="3.6"/>
<polygon points="675.6,877.3 688.6,890.3 675.6,903.3 662.6,890.3" fill="none" stroke="#ff33ff" stroke-width="3.6"/>
<polygon points="695.4,905.7 708.4,918.7 695.4,931.7 682.4,918.7" fill="none" stroke="#ff33ff" stroke-width="3.6"/>
<polygon points="715.2,927.3 728.2,940.3 715.2,953.3 702.2,940.3" fill="none" stroke="#ff33ff" stroke-width="3.6"/>
<polygon points="735,948.4 748,961.4 735,974.4 722,961.4" fill="none" stroke="#ff33ff" stroke-width="3.6"/>
<polygon points="754.8,965 767.8,978 754.8,991 741.8,978" fill="none" stroke="#ff33ff" stroke-width="3.6"/>
<polygon points="774.6,981.7 787.6,994.7 774.6,1007.7 761.6,994.7" fill="none" stroke="#ff33ff" stroke-width="3.6"/>
<polygon points="794.4,993.3 807.4,1006.3 794.4,1019.3 781.4,1006.3" fill="none" stroke="#ff33ff" stroke-width="3.6"/>
<polygon points="814.1,1004.4 827.1,1017.4 814.1,1030.4 801.1,1017.4" fill="none" stroke="#ff33ff" stroke-width="3.6"/>
<polygon points="833.9,1013.9 846.9,1026.9 833.9,1039.9 820.9,1026.9" fill="none" stroke="#ff33ff" stroke-width="3.6"/>
<polygon points="853.7,1021.6 866.7,1034.6 853.7,1047.6 840.7,1034.6" fill="none" stroke="#ff33ff" stroke-width="3.6"/>
<polygon points="873.5,1028.1 886.5,1041.1 873.5,1054.1 860.5,1041.1" fill="none" stroke="#ff33ff" stroke-width="3.6"/>
<polygon points="893.3,1034.5 906.3,1047.5 893.3,1060.5 880.3,1047.5" fill="none" stroke="#ff33ff" stroke-width="3.6"/>
<polygon points="913.1,1039.7 926.1,1052.7 913.1,1065.7 900.1,1052.7" fill="none" stroke="#ff33ff" stroke-width="3.6"/>
<polygon points="932.9,1044.1 945.9,1057.1 932.9,1070.1 919.9,1057.1" fill="none" stroke="#ff33ff" stroke-width="3.6"/>
<polygon points="952.7,1047.4 965.7,1060.4 952.7,1073.4 939.7,1060.4" fill="none" stroke="#ff33ff" stroke-width="3.6"/>
<polygon points="972.5,1049.6 985.5,1062.6 972.5,1075.6 959.5,1062.6" fill="none" stroke="#ff33ff" stroke-width="3.6"/>
<polygon points="992.3,1052 1005.3,1065 992.3,1078 979.3,1065" fill="none" stroke="#ff33ff" stroke-width="3.6"/>
<polygon points="1012.1,1054.5 1025.1,1067.5 1012.1,1080.5 999.1,1067.5" fill="none" stroke="#ff33ff" stroke-width="3.6"/>
<polygon points="1031.9,1057 1044.9,1070 1031.9,1083 1018.9,1070" fill="none" stroke="#ff33ff" stroke-width="3.6"/>
<polygon points="1051.7,1058.9 1064.7,1071.9 1051.7,1084.9 1038.7,1071.9" fill="none" stroke="#ff33ff" stroke-width="3.6"/>
<polygon points="1071.4,1060.1 1084.4,1073.1 1071.4,1086.1 1058.4,1073.1" fill="none" stroke="#ff33ff" stroke-width="3.6"/>
<polygon points="1091.2,1061.3 1104.2,1074.3 1091.2,1087.3 1078.2,1074.3" fill="none" stroke="#ff33ff" stroke-width="3.6"/>
<polygon points="1111,1063.2 1124,1076.2 1111,1089.2 1098,1076.2" fill="none" stroke="#ff33ff" stroke-width="3.6"/>
<polygon points="1130.8,1065 1143.8,1078 1130.8,1091 1117.8,1078" fill="none" stroke="#ff33ff" stroke-width="3.6"/>
<polygon points="1150.6,1066.3 1163.6,1079.3 1150.6,1092.3 1137.6,1079.3" fill="none" stroke="#ff33ff" stroke-width="3.6"/>
<polygon points="1170.4,1067.5 1183.4,1080.5 1170.4,1093.5 1157.4,1080.5" fill="none" stroke="#ff33ff" stroke-width="3.6"/>
<polygon points="1190.2,1068.1 1203.2,1081.1 1190.2,1094.1 1177.2,1081.1" fill="none" stroke="#ff33ff" stroke-width="3.6"/>
<polygon points="1210,1068.8 1223,1081.8 1210,1094.8 1197,1081.8" fill="none" stroke="#ff33ff" stroke-width="3.6"/>
<polygon points="1229.8,1069.5 1242.8,1082.5 1229.8,1095.5 1216.8,1082.5" fill="none" stroke="#ff33ff" stroke-width="3.6"/>
<polygon points="1249.6,1070.2 1262.6,1083.2 1249.6,1096.2 1236.6,1083.2" fill="none" stroke="#ff33ff" stroke-width="3.6"/>
<polygon points="1269.4,1070.9 1282.4,1083.9 1269.4,1096.9 1256.4,1083.9" fill="none" stroke="#ff33ff" stroke-width="3.6"/>
<polygon points="1289.2,1071.6 1302.2,1084.6 1289.2,1097.6 1276.2,1084.6" fill="none" stroke="#ff33ff" stroke-width="3.6"/>
<polygon points="1308.9,1072.2 1321.9,1085.2 1308.9,1098.2 1295.9,1085.2" fill="none" stroke="#ff33ff" stroke-width="3.6"/>
<polygon points="1328.7,1072.7 1341.7,1085.7 1328.7,1098.7 1315.7,1085.7" fill="none" stroke="#ff33ff" stroke-width="3.6"/>
<polygon points="1348.5,1073 1361.5,1086 1348.5,1099 1335.5,1086" fill="none" stroke="#ff33ff" stroke-width="3.6"/>
<polygon points="1368.3,1073.2 1381.3,1086.2 1368.3,1099.2 1355.3,1086.2" fill="none" stroke="#ff33ff" stroke-width="3.6"/>
<polygon points="1388.1,1074 1401.1,1087 1388.1,1100 1375.1,1087" fill="none" stroke="#ff33ff" stroke-width="3.6"/>
<polygon points="1407.9,1074.7 1420.9,1087.7 1407.9,1100.7 1394.9,1087.7" fill="none" stroke="#ff33ff" stroke-width="3.6"/>
<polygon points="1427.7,1075 1440.7,1088 1427.7,1101 1414.7,1088" fill="none" stroke="#ff33ff" stroke-width="3.6"/>
<polygon points="1447.5,1075.2 1460.5,1088.2 1447.5,1101.2 1434.5,1088.2" fill="none" stroke="#ff33ff" stroke-width="3.6"/>
<polygon points="1467.3,1075.5 1480.3,1088.5 1467.3,1101.5 1454.3,1088.5" fill="none" stroke="#ff33ff" stroke-width="3.6"/>
<polygon points="1487.1,1075.8 1500.1,1088.8 1487.1,1101.8 1474.1,1088.8" fill="none" stroke="#ff33ff" stroke-width="3.6"/>
<polygon points="1506.9,1076 1519.9,1089 1506.9,1102 1493.9,1089" fill="none" stroke="#ff33ff" stroke-width="3.6"/>
<polygon points="1526.7,1076.1 1539.7,1089.1 1526.7,1102.1 1513.7,1089.1" fill="none" stroke="#ff33ff" stroke-width="3.6"/>
<polygon points="1546.4,1076.2 1559.4,1089.2 1546.4,1102.2 1533.4,1089.2" fill="none" stroke="#ff33ff" stroke-width="3.6"/>
<polygon points="1566.2,1076.4 1579.2,1089.4 1566.2,1102.4 1553.2,1089.4" fill="none" stroke="#ff33ff" stroke-width="3.6"/>
<polygon points="1586,1076.5 1599,1089.5 1586,1102.5 1573,1089.5" fill="none" stroke="#ff33ff" stroke-width="3.6"/>
<polygon points="1605.8,1076.7 1618.8,1089.7 1605.8,1102.7 1592.8,1089.7" fill="none" stroke="#ff33ff" stroke-width="3.6"/>
<polygon points="1625.6,1076.8 1638.6,1089.8 1625.6,1102.8 1612.6,1089.8" fill="none" stroke="#ff33ff" stroke-width="3.6"/>
<polygon points="1645.4,1077 1658.4,1090 1645.4,1103 1632.4,1090" fill="none" stroke="#ff33ff" stroke-width="3.6"/>
</g>
<rect x="869.2" y="160.6" width="755" height="579.1" fill="#fff"/>
<g stroke="#d9d9d9" stroke-width="7.6" fill="none" stroke-linecap="square">
<rect x="869.2" y="160.6" width="755" height="579.1"/>
<line x1="854.2" y1="739.7" x2="869.2" y2="739.7"/>
<line x1="854.2" y1="598.3" x2="869.2" y2="598.3"/>
<line x1="854.2" y1="457" x2="869.2" y2="457"/>
<line x1="854.2" y1="315.6" x2="869.2" y2="315.6"/>
<line x1="854.2" y1="174.2" x2="869.2" y2="174.2"/>
<line x1="869.2" y1="739.7" x2="869.2" y2="750.5"/>
<line x1="1020.2" y1="739.7" x2="1020.2" y2="750.5"/>
<line x1="1171.2" y1="739.7" x2="1171.2" y2="750.5"/>
<line x1="1322.2" y1="739.7" x2="1322.2" y2="750.5"/>
<line x1="1473.2" y1="739.7" x2="1473.2" y2="750.5"/>
<line x1="1624.2" y1="739.7" x2="1624.2" y2="750.5"/>
</g>
<g stroke="#000" stroke-width="4" fill="none" stroke-linecap="square">
<rect x="869.2" y="160.6" width="755" height="579.1"/>
<line x1="854.2" y1="739.7" x2="869.2" y2="739.7"/>
<line x1="854.2" y1="598.3" x2="869.2" y2="598.3"/>
<line x1="854.2" y1="457" x2="869.2" y2="457"/>
<line x1="854.2" y1="315.6" x2="869.2" y2="315.6"/>
<line x1="854.2" y1="174.2" x2="869.2" y2="174.2"/>
<line x1="869.2" y1="739.7" x2="869.2" y2="750.5"/>
<line x1="1020.2" y1="739.7" x2="1020.2" y2="750.5"/>
<line x1="1171.2" y1="739.7" x2="1171.2" y2="750.5"/>
<line x1="1322.2" y1="739.7" x2="1322.2" y2="750.5"/>
<line x1="1473.2" y1="739.7" x2="1473.2" y2="750.5"/>
<line x1="1624.2" y1="739.7" x2="1624.2" y2="750.5"/>
</g>
<text x="828" y="756.4" font-size="50" text-anchor="end" font-family='"Liberation Sans", Arial, sans-serif'>500</text>
<text x="828" y="615" font-size="50" text-anchor="end" font-family='"Liberation Sans", Arial, sans-serif'>1000</text>
<text x="828" y="473.7" font-size="50" text-anchor="end" font-family='"Liberation Sans", Arial, sans-serif'>1500</text>
<text x="828" y="332.3" font-size="50" text-anchor="end" font-family='"Liberation Sans", Arial, sans-serif'>2000</text>
<text x="828" y="190.9" font-size="50" text-anchor="end" font-family='"Liberation Sans", Arial, sans-serif'>2500</text>
<text x="869.2" y="818.4" font-size="50" text-anchor="middle" font-family='"Liberation Sans", Arial, sans-serif'>0</text>
<text x="1020.2" y="818.4" font-size="50" text-anchor="middle" font-family='"Liberation Sans", Arial, sans-serif'>1</text>
<text x="1171.2" y="818.4" font-size="50" text-anchor="middle" font-family='"Liberation Sans", Arial, sans-serif'>2</text>
<text x="1322.2" y="818.4" font-size="50" text-anchor="middle" font-family='"Liberation Sans", Arial, sans-serif'>3</text>
<text x="1473.2" y="818.4" font-size="50" text-anchor="middle" font-family='"Liberation Sans", Arial, sans-serif'>4</text>
<text x="1624.2" y="818.4" font-size="50" text-anchor="middle" font-family='"Liberation Sans", Arial, sans-serif'>5</text>
<text x="1247" y="910.4" font-size="56" text-anchor="middle" font-family='"Liberation Sans", Arial, sans-serif'>Frequency (Hz)</text>
<line x1="929.5" y1="411" x2="929.5" y2="280" stroke="#777" stroke-width="2.6"/>
<polygon points="929.5,261.7 920.5,281.5 938.5,281.5" fill="#000"/>
<text x="933" y="486.5" font-size="55" text-anchor="middle" font-family='"Liberation Sans", Arial, sans-serif'>10<tspan font-size="38" dy="-17">0</tspan></text>
<text x="933" y="234" font-size="55" text-anchor="middle" font-family='"Liberation Sans", Arial, sans-serif'>10<tspan font-size="38" dy="-17">6</tspan></text>
<g>
<rect x="1011.5" y="468.3" width="17.4" height="17.4" fill="#000"/>
<rect x="1043.4" y="494.7" width="17.4" height="17.4" fill="#000"/>
<rect x="1082.1" y="523.7" width="17.4" height="17.4" fill="#000"/>
<rect x="1129" y="551.6" width="17.4" height="17.4" fill="#000"/>
<rect x="1185.8" y="580.8" width="17.4" height="17.4" fill="#000"/>
<rect x="1254.6" y="604.7" width="17.4" height="17.4" fill="#000"/>
<rect x="1338" y="623.5" width="17.4" height="17.4" fill="#000"/>
<rect x="1439" y="642.3" width="17.4" height="17.4" fill="#000"/>
<rect x="1561.4" y="657" width="17.4" height="17.4" fill="#000"/>
</g>
<g>
<polygon points="1020.2,337.5 1023.5,345 1031.6,345.8 1025.5,351.2 1027.3,359.2 1020.2,355.1 1013.1,359.2 1014.9,351.2 1008.8,345.8 1016.9,345" fill="#ff7433"/>
<polygon points="1052.1,377 1055.4,384.5 1063.6,385.3 1057.5,390.7 1059.2,398.7 1052.1,394.6 1045.1,398.7 1046.8,390.7 1040.7,385.3 1048.8,384.5" fill="#ff7433"/>
<polygon points="1090.8,417.6 1094.1,425.1 1102.3,425.9 1096.2,431.3 1097.9,439.3 1090.8,435.2 1083.8,439.3 1085.5,431.3 1079.4,425.9 1087.5,425.1" fill="#ff7433"/>
<polygon points="1137.7,459.9 1141,467.4 1149.1,468.2 1143,473.6 1144.8,481.6 1137.7,477.5 1130.7,481.6 1132.4,473.6 1126.3,468.2 1134.4,467.4" fill="#ff7433"/>
<polygon points="1194.5,501.5 1197.8,509 1205.9,509.8 1199.8,515.2 1201.6,523.2 1194.5,519.1 1187.5,523.2 1189.2,515.2 1183.1,509.8 1191.2,509" fill="#ff7433"/>
<polygon points="1263.3,538.2 1266.6,545.7 1274.7,546.5 1268.7,551.9 1270.4,559.9 1263.3,555.8 1256.3,559.9 1258,551.9 1251.9,546.5 1260,545.7" fill="#ff7433"/>
<polygon points="1346.7,568.1 1350,575.6 1358.1,576.4 1352,581.8 1353.8,589.8 1346.7,585.7 1339.7,589.8 1341.4,581.8 1335.3,576.4 1343.4,575.6" fill="#ff7433"/>
<polygon points="1447.7,594.5 1451,602 1459.1,602.8 1453,608.2 1454.8,616.2 1447.7,612.1 1440.7,616.2 1442.4,608.2 1436.3,602.8 1444.4,602" fill="#ff7433"/>
<polygon points="1570.1,616.2 1573.4,623.7 1581.5,624.5 1575.4,629.9 1577.1,637.9 1570.1,633.8 1563,637.9 1564.8,629.9 1558.7,624.5 1566.8,623.7" fill="#ff7433"/>
</g>
<g>
<polygon points="1020.2,301.5 1008.2,322.5 1032.2,322.5" fill="#ff0000"/>
<polygon points="1052.1,337.5 1040.1,358.5 1064.1,358.5" fill="#ff0000"/>
<polygon points="1090.8,383.6 1078.8,404.6 1102.8,404.6" fill="#ff0000"/>
<polygon points="1137.7,431 1125.7,452 1149.7,452" fill="#ff0000"/>
<polygon points="1194.5,474.8 1182.5,495.8 1206.5,495.8" fill="#ff0000"/>
<polygon points="1263.3,514.5 1251.3,535.5 1275.3,535.5" fill="#ff0000"/>
<polygon points="1346.7,546 1334.7,567 1358.7,567" fill="#ff0000"/>
<polygon points="1447.7,575 1435.7,596 1459.7,596" fill="#ff0000"/>
<polygon points="1570.1,597.5 1558.1,618.5 1582.1,618.5" fill="#ff0000"/>
</g>
<g>
<polygon points="1020.2,275.8 1010.2,293.4 1030.2,293.4" fill="none" stroke="#8033ff" stroke-width="3.8" stroke-linejoin="miter"/>
<polygon points="1052.1,322.2 1042.1,339.8 1062.1,339.8" fill="none" stroke="#8033ff" stroke-width="3.8" stroke-linejoin="miter"/>
<polygon points="1090.8,371.5 1080.8,389.1 1100.8,389.1" fill="none" stroke="#8033ff" stroke-width="3.8" stroke-linejoin="miter"/>
<polygon points="1137.7,418.2 1127.7,435.8 1147.7,435.8" fill="none" stroke="#8033ff" stroke-width="3.8" stroke-linejoin="miter"/>
<polygon points="1194.5,466.6 1184.5,484.2 1204.5,484.2" fill="none" stroke="#8033ff" stroke-width="3.8" stroke-linejoin="miter"/>
<polygon points="1263.3,508.5 1253.3,526.1 1273.3,526.1" fill="none" stroke="#8033ff" stroke-width="3.8" stroke-linejoin="miter"/>
<polygon points="1346.7,538.8 1336.7,556.4 1356.7,556.4" fill="none" stroke="#8033ff" stroke-width="3.8" stroke-linejoin="miter"/>
<polygon points="1447.7,571.6 1437.7,589.2 1457.7,589.2" fill="none" stroke="#8033ff" stroke-width="3.8" stroke-linejoin="miter"/>
<polygon points="1570.1,596.7 1560.1,614.3 1580.1,614.3" fill="none" stroke="#8033ff" stroke-width="3.8" stroke-linejoin="miter"/>
</g>
<g>
<circle cx="1020.2" cy="263.1" r="11" fill="#00f000" stroke="#00b800" stroke-width="2.4"/>
<circle cx="1052.1" cy="314" r="11" fill="#00f000" stroke="#00b800" stroke-width="2.4"/>
<circle cx="1090.8" cy="363.1" r="11" fill="#00f000" stroke="#00b800" stroke-width="2.4"/>
<circle cx="1137.7" cy="412.4" r="11" fill="#00f000" stroke="#00b800" stroke-width="2.4"/>
<circle cx="1194.5" cy="462.5" r="11" fill="#00f000" stroke="#00b800" stroke-width="2.4"/>
<circle cx="1263.3" cy="505.1" r="11" fill="#00f000" stroke="#00b800" stroke-width="2.4"/>
<circle cx="1346.7" cy="539.6" r="11" fill="#00f000" stroke="#00b800" stroke-width="2.4"/>
<circle cx="1447.7" cy="569.6" r="11" fill="#00f000" stroke="#00b800" stroke-width="2.4"/>
<circle cx="1570.1" cy="598.2" r="11" fill="#00f000" stroke="#00b800" stroke-width="2.4"/>
</g>
<g>
<path d="M1012.6 237.4L1027.8 254.6M1012.6 254.6L1027.8 237.4" stroke="#4080ff" stroke-width="6.6" stroke-linecap="butt"/>
<path d="M1044.5 295.4L1059.7 312.6M1044.5 312.6L1059.7 295.4" stroke="#4080ff" stroke-width="6.6" stroke-linecap="butt"/>
<path d="M1083.2 343.6L1098.4 360.8M1083.2 360.8L1098.4 343.6" stroke="#4080ff" stroke-width="6.6" stroke-linecap="butt"/>
<path d="M1130.1 394.1L1145.3 411.3M1130.1 411.3L1145.3 394.1" stroke="#4080ff" stroke-width="6.6" stroke-linecap="butt"/>
<path d="M1186.9 446.7L1202.1 463.9M1186.9 463.9L1202.1 446.7" stroke="#4080ff" stroke-width="6.6" stroke-linecap="butt"/>
<path d="M1255.7 490.4L1270.9 507.6M1255.7 507.6L1270.9 490.4" stroke="#4080ff" stroke-width="6.6" stroke-linecap="butt"/>
<path d="M1339.1 524.4L1354.3 541.6M1339.1 541.6L1354.3 524.4" stroke="#4080ff" stroke-width="6.6" stroke-linecap="butt"/>
<path d="M1440.1 557.9L1455.3 575.1M1440.1 575.1L1455.3 557.9" stroke="#4080ff" stroke-width="6.6" stroke-linecap="butt"/>
<path d="M1562.5 586.4L1577.7 603.6M1562.5 603.6L1577.7 586.4" stroke="#4080ff" stroke-width="6.6" stroke-linecap="butt"/>
</g>
<g>
<polygon points="1020.2,206.6 1033.2,219.6 1020.2,232.6 1007.2,219.6" fill="none" stroke="#ff33ff" stroke-width="3.6"/>
<polygon points="1052.1,271.6 1065.1,284.6 1052.1,297.6 1039.1,284.6" fill="none" stroke="#ff33ff" stroke-width="3.6"/>
<polygon points="1090.8,326 1103.8,339 1090.8,352 1077.8,339" fill="none" stroke="#ff33ff" stroke-width="3.6"/>
<polygon points="1137.7,376.6 1150.7,389.6 1137.7,402.6 1124.7,389.6" fill="none" stroke="#ff33ff" stroke-width="3.6"/>
<polygon points="1194.5,429.6 1207.5,442.6 1194.5,455.6 1181.5,442.6" fill="none" stroke="#ff33ff" stroke-width="3.6"/>
<polygon points="1263.3,477.6 1276.3,490.6 1263.3,503.6 1250.3,490.6" fill="none" stroke="#ff33ff" stroke-width="3.6"/>
<polygon points="1346.7,514.3 1359.7,527.3 1346.7,540.3 1333.7,527.3" fill="none" stroke="#ff33ff" stroke-width="3.6"/>
<polygon points="1447.7,545.8 1460.7,558.8 1447.7,571.8 1434.7,558.8" fill="none" stroke="#ff33ff" stroke-width="3.6"/>
<polygon points="1570.1,577.5 1583.1,590.5 1570.1,603.5 1557.1,590.5" fill="none" stroke="#ff33ff" stroke-width="3.6"/>
</g>
<rect x="1771.1" y="551.5" width="18.4" height="18.4" fill="#000"/>
<text x="1874" y="586.3" font-size="56" text-anchor="start" font-family='"Liberation Sans", Arial, sans-serif'>10<tspan font-size="47" dy="-24">0</tspan></text>
<polygon points="1780.3,623.6 1783.8,631.5 1792.4,632.4 1785.9,638.1 1787.8,646.6 1780.3,642.2 1772.8,646.6 1774.7,638.1 1768.2,632.4 1776.8,631.5" fill="#ff7433"/>
<text x="1874" y="661.4" font-size="56" text-anchor="start" font-family='"Liberation Sans", Arial, sans-serif'>10<tspan font-size="47" dy="-24">1</tspan></text>
<polygon points="1780.3,699.7 1767.6,721.9 1793,721.9" fill="#ff0000"/>
<text x="1874" y="737.4" font-size="56" text-anchor="start" font-family='"Liberation Sans", Arial, sans-serif'>10<tspan font-size="47" dy="-24">2</tspan></text>
<polygon points="1780.3,779 1769.7,797.6 1790.9,797.6" fill="none" stroke="#8033ff" stroke-width="4" stroke-linejoin="miter"/>
<text x="1874" y="814.9" font-size="56" text-anchor="start" font-family='"Liberation Sans", Arial, sans-serif'>10<tspan font-size="47" dy="-24">3</tspan></text>
<circle cx="1780.3" cy="868.9" r="11.7" fill="#00f000" stroke="#00b800" stroke-width="2.5"/>
<text x="1874" y="894.5" font-size="56" text-anchor="start" font-family='"Liberation Sans", Arial, sans-serif'>10<tspan font-size="47" dy="-24">4</tspan></text>
<path d="M1772.2 936.9L1788.4 955.1M1772.2 955.1L1788.4 936.9" stroke="#4080ff" stroke-width="7" stroke-linecap="butt"/>
<text x="1874" y="971.6" font-size="56" text-anchor="start" font-family='"Liberation Sans", Arial, sans-serif'>10<tspan font-size="47" dy="-24">5</tspan></text>
<polygon points="1780.3,1010.5 1794.1,1024.3 1780.3,1038.1 1766.5,1024.3" fill="none" stroke="#ff33ff" stroke-width="3.8"/>
<text x="1874" y="1049.9" font-size="56" text-anchor="start" font-family='"Liberation Sans", Arial, sans-serif'>10<tspan font-size="47" dy="-24">6</tspan></text>
<text x="1855" y="331.7" font-size="56.3" text-anchor="middle" font-family='"Liberation Sans", Arial, sans-serif' font-style="italic">Listeria</text>
<text x="1855" y="393.6" font-size="56.3" text-anchor="middle" font-family='"Liberation Sans", Arial, sans-serif' font-style="italic">monocytogenes</text>
<text x="1855" y="456" font-size="56" text-anchor="middle" font-family='"Liberation Sans", Arial, sans-serif'>(CFU/mL)</text>
<g stroke="#d9d9d9" stroke-width="7.6" fill="none" stroke-linecap="square">
<rect x="2361.6" y="138.2" width="1260.7" height="1006.7"/>
<line x1="2338" y1="1144.9" x2="2361.6" y2="1144.9"/>
<line x1="2338" y1="1001.1" x2="2361.6" y2="1001.1"/>
<line x1="2338" y1="857.3" x2="2361.6" y2="857.3"/>
<line x1="2338" y1="713.5" x2="2361.6" y2="713.5"/>
<line x1="2338" y1="569.7" x2="2361.6" y2="569.7"/>
<line x1="2338" y1="425.9" x2="2361.6" y2="425.9"/>
<line x1="2338" y1="282.1" x2="2361.6" y2="282.1"/>
<line x1="2338" y1="138.3" x2="2361.6" y2="138.3"/>
<line x1="2361.6" y1="1144.9" x2="2361.6" y2="1158.9"/>
<line x1="2541.7" y1="1144.9" x2="2541.7" y2="1158.9"/>
<line x1="2721.8" y1="1144.9" x2="2721.8" y2="1158.9"/>
<line x1="2901.9" y1="1144.9" x2="2901.9" y2="1158.9"/>
<line x1="3082" y1="1144.9" x2="3082" y2="1158.9"/>
<line x1="3262.1" y1="1144.9" x2="3262.1" y2="1158.9"/>
<line x1="3442.2" y1="1144.9" x2="3442.2" y2="1158.9"/>
<line x1="3622.3" y1="1144.9" x2="3622.3" y2="1158.9"/>
</g>
<g stroke="#000" stroke-width="4" fill="none" stroke-linecap="square">
<rect x="2361.6" y="138.2" width="1260.7" height="1006.7"/>
<line x1="2338" y1="1144.9" x2="2361.6" y2="1144.9"/>
<line x1="2338" y1="1001.1" x2="2361.6" y2="1001.1"/>
<line x1="2338" y1="857.3" x2="2361.6" y2="857.3"/>
<line x1="2338" y1="713.5" x2="2361.6" y2="713.5"/>
<line x1="2338" y1="569.7" x2="2361.6" y2="569.7"/>
<line x1="2338" y1="425.9" x2="2361.6" y2="425.9"/>
<line x1="2338" y1="282.1" x2="2361.6" y2="282.1"/>
<line x1="2338" y1="138.3" x2="2361.6" y2="138.3"/>
<line x1="2361.6" y1="1144.9" x2="2361.6" y2="1158.9"/>
<line x1="2541.7" y1="1144.9" x2="2541.7" y2="1158.9"/>
<line x1="2721.8" y1="1144.9" x2="2721.8" y2="1158.9"/>
<line x1="2901.9" y1="1144.9" x2="2901.9" y2="1158.9"/>
<line x1="3082" y1="1144.9" x2="3082" y2="1158.9"/>
<line x1="3262.1" y1="1144.9" x2="3262.1" y2="1158.9"/>
<line x1="3442.2" y1="1144.9" x2="3442.2" y2="1158.9"/>
<line x1="3622.3" y1="1144.9" x2="3622.3" y2="1158.9"/>
</g>
<text x="2305.5" y="1162.1" font-size="55" text-anchor="end" font-family='"Liberation Sans", Arial, sans-serif'>20</text>
<text x="2305.5" y="1018.3" font-size="55" text-anchor="end" font-family='"Liberation Sans", Arial, sans-serif'>30</text>
<text x="2305.5" y="874.5" font-size="55" text-anchor="end" font-family='"Liberation Sans", Arial, sans-serif'>40</text>
<text x="2305.5" y="730.7" font-size="55" text-anchor="end" font-family='"Liberation Sans", Arial, sans-serif'>50</text>
<text x="2305.5" y="586.9" font-size="55" text-anchor="end" font-family='"Liberation Sans", Arial, sans-serif'>60</text>
<text x="2305.5" y="443.1" font-size="55" text-anchor="end" font-family='"Liberation Sans", Arial, sans-serif'>70</text>
<text x="2305.5" y="299.3" font-size="55" text-anchor="end" font-family='"Liberation Sans", Arial, sans-serif'>80</text>
<text x="2305.5" y="155.5" font-size="55" text-anchor="end" font-family='"Liberation Sans", Arial, sans-serif'>90</text>
<text x="2361.6" y="1236.5" font-size="55" text-anchor="middle" font-family='"Liberation Sans", Arial, sans-serif'>0</text>
<text x="2541.7" y="1236.5" font-size="55" text-anchor="middle" font-family='"Liberation Sans", Arial, sans-serif'>1</text>
<text x="2721.8" y="1236.5" font-size="55" text-anchor="middle" font-family='"Liberation Sans", Arial, sans-serif'>2</text>
<text x="2901.9" y="1236.5" font-size="55" text-anchor="middle" font-family='"Liberation Sans", Arial, sans-serif'>3</text>
<text x="3082" y="1236.5" font-size="55" text-anchor="middle" font-family='"Liberation Sans", Arial, sans-serif'>4</text>
<text x="3262.1" y="1236.5" font-size="55" text-anchor="middle" font-family='"Liberation Sans", Arial, sans-serif'>5</text>
<text x="3442.2" y="1236.5" font-size="55" text-anchor="middle" font-family='"Liberation Sans", Arial, sans-serif'>6</text>
<text x="3622.3" y="1236.5" font-size="55" text-anchor="middle" font-family='"Liberation Sans", Arial, sans-serif'>7</text>
<text x="2991.9" y="1349" font-size="77" text-anchor="middle" font-family='"Liberation Sans", Arial, sans-serif'>Bacteria Concentration (log CFU/mL)</text>
<text x="2086.5" y="113" font-size="84" text-anchor="start" font-family='"Liberation Serif", "Times New Roman", serif'>b)</text>
<g stroke="#d9d9d9" stroke-width="7.4" fill="none" stroke-linecap="butt">
<line x1="2541.7" y1="1007.6" x2="2541.7" y2="862"/>
<line x1="2521.7" y1="1007.6" x2="2561.7" y2="1007.6"/>
<line x1="2521.7" y1="862" x2="2561.7" y2="862"/>
<line x1="2721.8" y1="921.8" x2="2721.8" y2="674.1"/>
<line x1="2701.8" y1="921.8" x2="2741.8" y2="921.8"/>
<line x1="2701.8" y1="674.1" x2="2741.8" y2="674.1"/>
<line x1="2901.9" y1="823.1" x2="2901.9" y2="617.4"/>
<line x1="2881.9" y1="823.1" x2="2921.9" y2="823.1"/>
<line x1="2881.9" y1="617.4" x2="2921.9" y2="617.4"/>
<line x1="3082" y1="744.7" x2="3082" y2="460"/>
<line x1="3062" y1="744.7" x2="3102" y2="744.7"/>
<line x1="3062" y1="460" x2="3102" y2="460"/>
<line x1="3262.1" y1="660.3" x2="3262.1" y2="387.6"/>
<line x1="3242.1" y1="660.3" x2="3282.1" y2="660.3"/>
<line x1="3242.1" y1="387.6" x2="3282.1" y2="387.6"/>
<line x1="3442.2" y1="581.9" x2="3442.2" y2="261.6"/>
<line x1="3422.2" y1="581.9" x2="3462.2" y2="581.9"/>
<line x1="3422.2" y1="261.6" x2="3462.2" y2="261.6"/>
<line x1="2541.7" y1="918.5" x2="3442.2" y2="421.1"/>
</g>
<g stroke="#000" stroke-width="3.8" fill="none" stroke-linecap="butt">
<line x1="2541.7" y1="1007.6" x2="2541.7" y2="862"/>
<line x1="2521.7" y1="1007.6" x2="2561.7" y2="1007.6"/>
<line x1="2521.7" y1="862" x2="2561.7" y2="862"/>
<line x1="2721.8" y1="921.8" x2="2721.8" y2="674.1"/>
<line x1="2701.8" y1="921.8" x2="2741.8" y2="921.8"/>
<line x1="2701.8" y1="674.1" x2="2741.8" y2="674.1"/>
<line x1="2901.9" y1="823.1" x2="2901.9" y2="617.4"/>
<line x1="2881.9" y1="823.1" x2="2921.9" y2="823.1"/>
<line x1="2881.9" y1="617.4" x2="2921.9" y2="617.4"/>
<line x1="3082" y1="744.7" x2="3082" y2="460"/>
<line x1="3062" y1="744.7" x2="3102" y2="744.7"/>
<line x1="3062" y1="460" x2="3102" y2="460"/>
<line x1="3262.1" y1="660.3" x2="3262.1" y2="387.6"/>
<line x1="3242.1" y1="660.3" x2="3282.1" y2="660.3"/>
<line x1="3242.1" y1="387.6" x2="3282.1" y2="387.6"/>
<line x1="3442.2" y1="581.9" x2="3442.2" y2="261.6"/>
<line x1="3422.2" y1="581.9" x2="3462.2" y2="581.9"/>
<line x1="3422.2" y1="261.6" x2="3462.2" y2="261.6"/>
<line x1="2541.7" y1="918.5" x2="3442.2" y2="421.1"/>
</g>
<polygon points="2541.7,923.2 2554.2,935.7 2541.7,948.2 2529.2,935.7" fill="#00ff00" stroke="#000" stroke-width="2.6"/>
<polygon points="2721.8,785.5 2734.3,798 2721.8,810.5 2709.3,798" fill="#00ff00" stroke="#000" stroke-width="2.6"/>
<polygon points="2901.9,708.1 2914.4,720.6 2901.9,733.1 2889.4,720.6" fill="#00ff00" stroke="#000" stroke-width="2.6"/>
<polygon points="3082,590.2 3094.5,602.7 3082,615.2 3069.5,602.7" fill="#00ff00" stroke="#000" stroke-width="2.6"/>
<polygon points="3262.1,511.1 3274.6,523.6 3262.1,536.1 3249.6,523.6" fill="#00ff00" stroke="#000" stroke-width="2.6"/>
<polygon points="3442.2,408.6 3454.7,421.1 3442.2,433.6 3429.7,421.1" fill="#00ff00" stroke="#000" stroke-width="2.6"/>
</g>
<text x="679.5" y="162.3" font-size="79" font-family='"Liberation Sans", Arial, sans-serif'>Z <tspan font-family='"Liberation Serif", "Times New Roman", serif'>(&#937;)</tspan></text>
<text x="896.5" y="678.4" font-size="56" font-family='"Liberation Sans", Arial, sans-serif'>Z <tspan font-family='"Liberation Serif", "Times New Roman", serif'>(&#937;)</tspan></text>
<text x="651" y="2200.4" font-size="75" font-family='"Liberation Sans", Arial, sans-serif'><tspan font-family='"Liberation Serif", "Times New Roman", serif'>&#916;</tspan>Z (%)</text>
</svg></body></html>
